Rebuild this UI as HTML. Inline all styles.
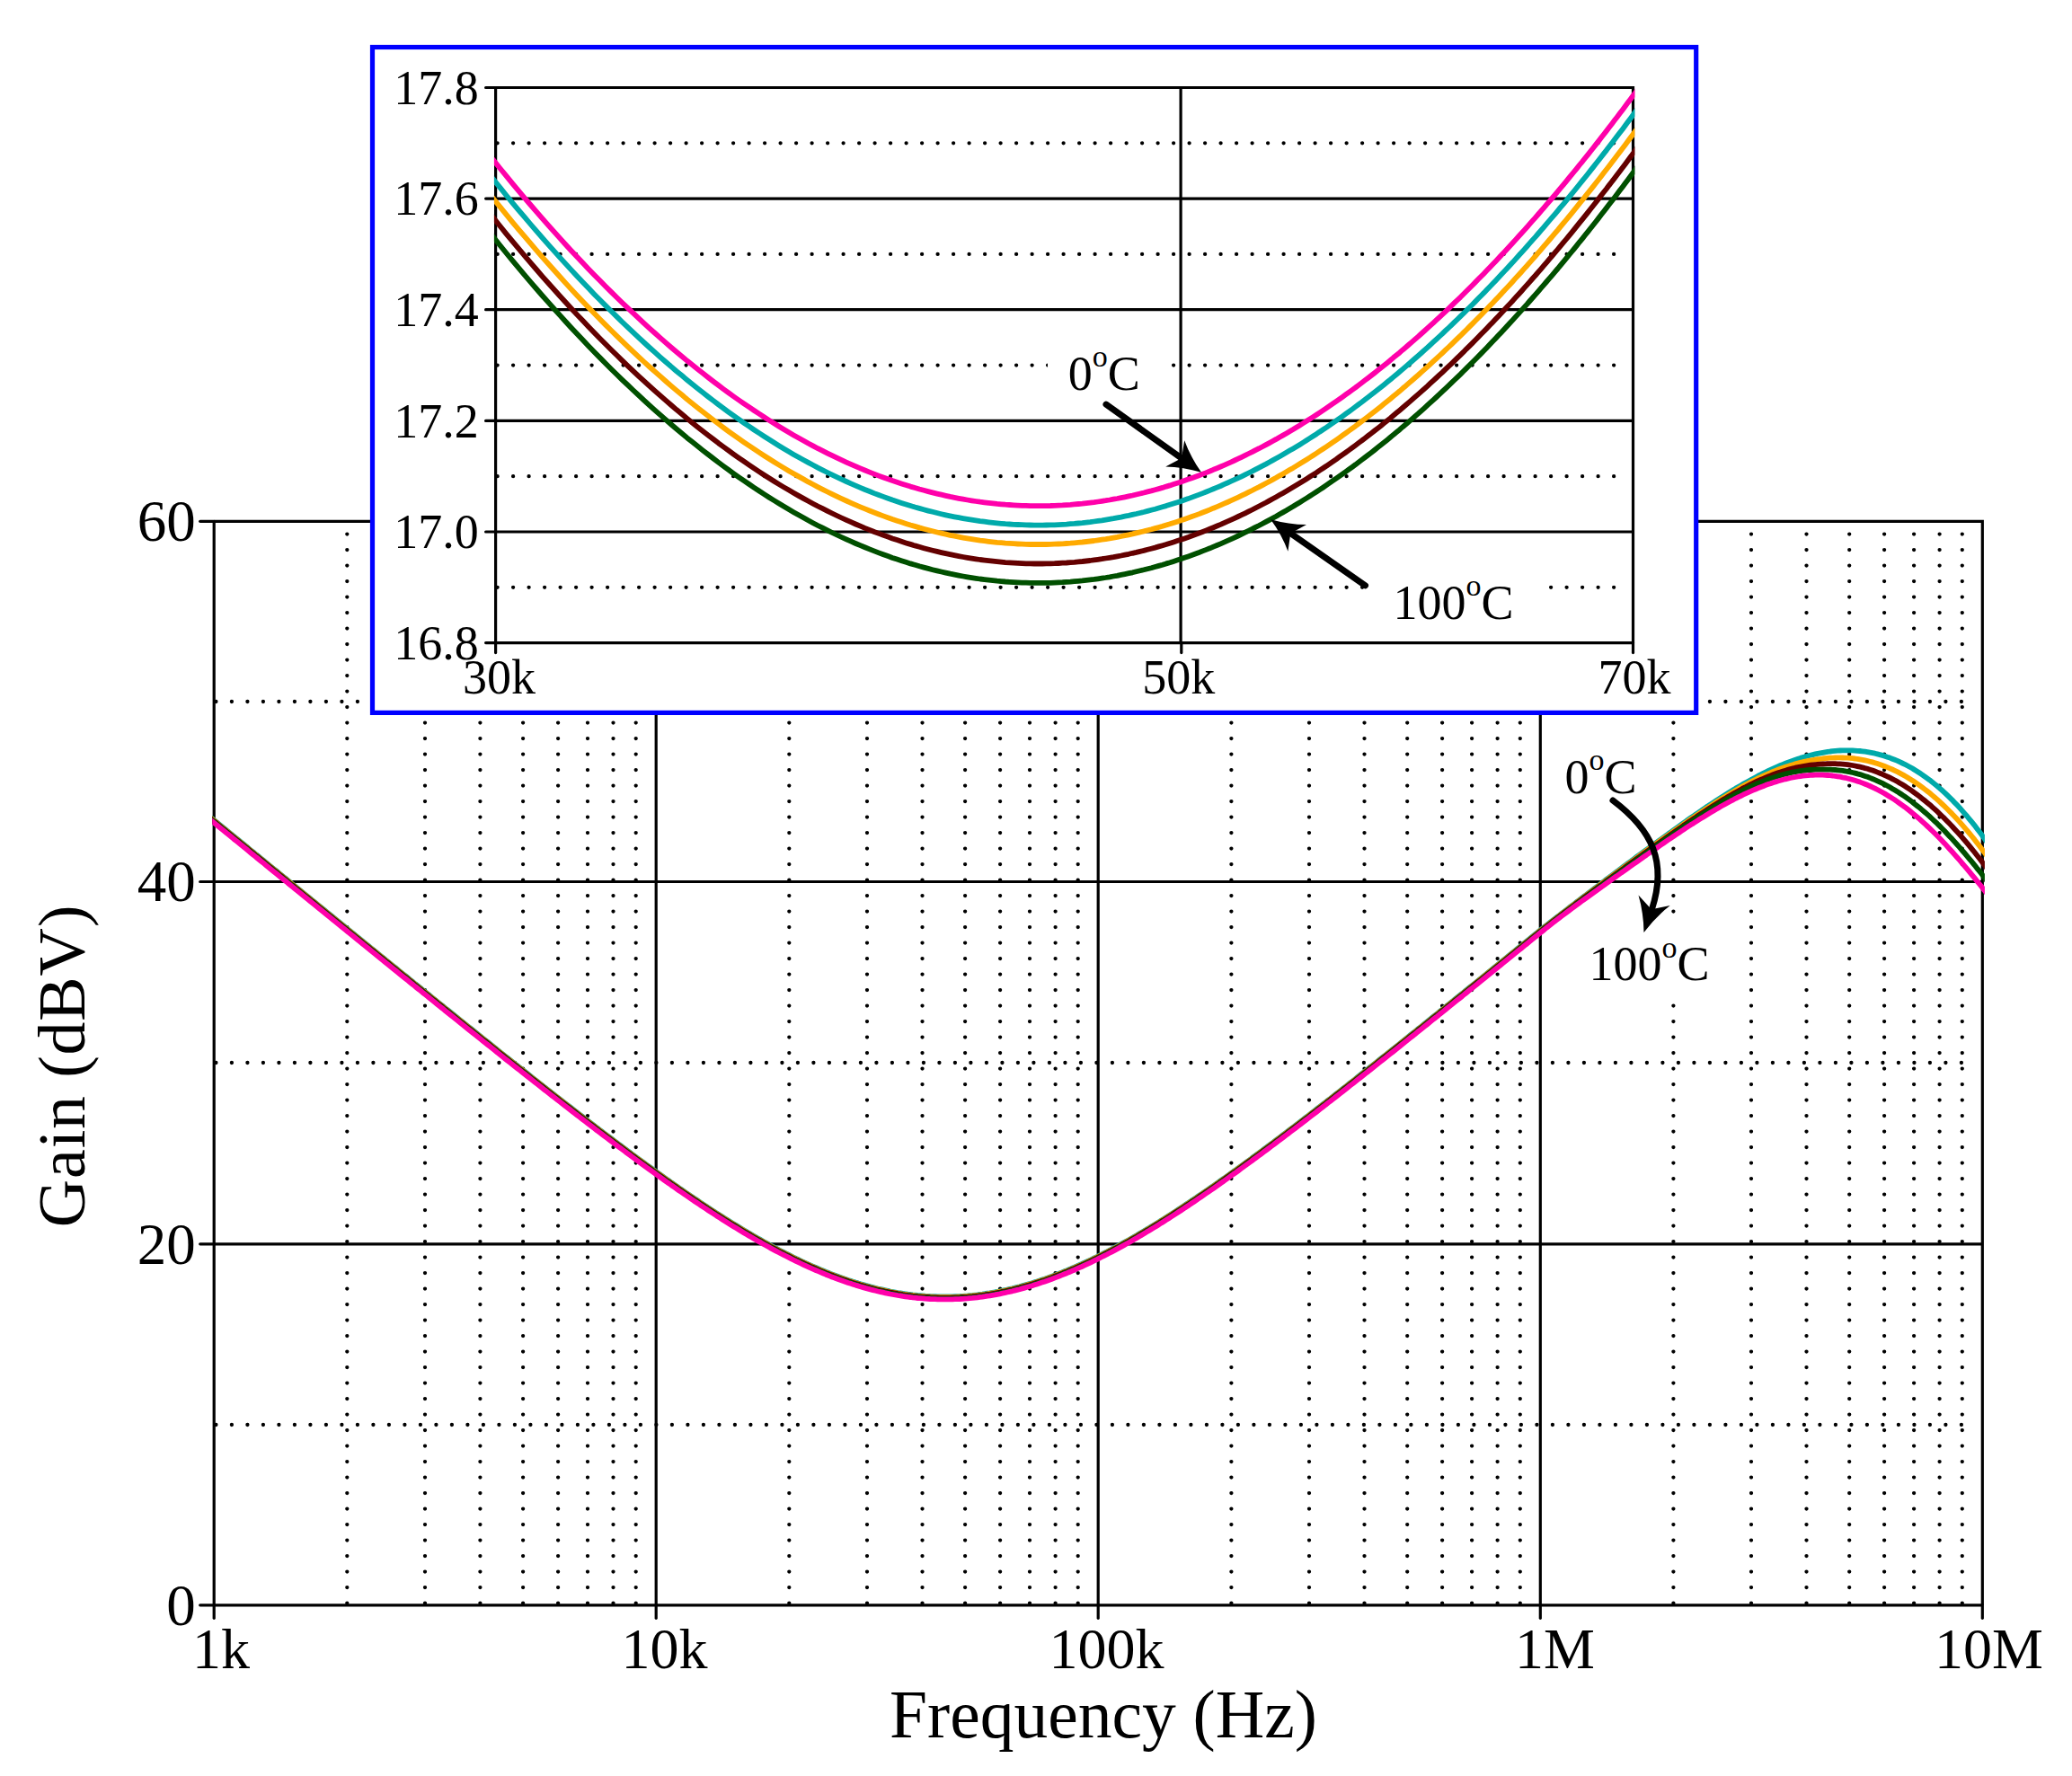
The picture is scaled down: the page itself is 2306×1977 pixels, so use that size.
<!DOCTYPE html>
<html lang="en"><head><meta charset="utf-8"><title>Gain vs Frequency</title>
<style>html,body{margin:0;padding:0;background:#fff}svg{display:block}</style></head>
<body>
<svg width="2306" height="1977" viewBox="0 0 2306 1977" font-family='"Liberation Serif", serif' fill="#000">
<style>.dot{stroke:#000;stroke-width:4.3;stroke-linecap:round;fill:none}.g{stroke:#000;stroke-width:3.2;fill:none}.c{fill:none;stroke-width:5.8;stroke-linejoin:round;stroke-linecap:butt}.ar{stroke:#000;stroke-width:7;fill:none;stroke-linecap:round}</style>
<rect width="2306" height="1977" fill="#fff"/>
<g id="main-grid">
<path d="M386.3 1784.6V594.58" class="dot" stroke-dasharray="0.01 17.49"/>
<path d="M473.0 1784.6V594.58" class="dot" stroke-dasharray="0.01 17.49"/>
<path d="M534.4 1784.6V594.58" class="dot" stroke-dasharray="0.01 17.49"/>
<path d="M582.1 1784.6V594.58" class="dot" stroke-dasharray="0.01 17.49"/>
<path d="M621.1 1784.6V594.58" class="dot" stroke-dasharray="0.01 17.49"/>
<path d="M654.0 1784.6V594.58" class="dot" stroke-dasharray="0.01 17.49"/>
<path d="M682.5 1784.6V594.58" class="dot" stroke-dasharray="0.01 17.49"/>
<path d="M707.7 1784.6V594.58" class="dot" stroke-dasharray="0.01 17.49"/>
<path d="M878.3 1784.6V594.58" class="dot" stroke-dasharray="0.01 17.49"/>
<path d="M965.0 1784.6V594.58" class="dot" stroke-dasharray="0.01 17.49"/>
<path d="M1026.5 1784.6V594.58" class="dot" stroke-dasharray="0.01 17.49"/>
<path d="M1074.1 1784.6V594.58" class="dot" stroke-dasharray="0.01 17.49"/>
<path d="M1113.1 1784.6V594.58" class="dot" stroke-dasharray="0.01 17.49"/>
<path d="M1146.0 1784.6V594.58" class="dot" stroke-dasharray="0.01 17.49"/>
<path d="M1174.6 1784.6V594.58" class="dot" stroke-dasharray="0.01 17.49"/>
<path d="M1199.7 1784.6V594.58" class="dot" stroke-dasharray="0.01 17.49"/>
<path d="M1370.4 1784.6V594.58" class="dot" stroke-dasharray="0.01 17.49"/>
<path d="M1457.0 1784.6V594.58" class="dot" stroke-dasharray="0.01 17.49"/>
<path d="M1518.5 1784.6V594.58" class="dot" stroke-dasharray="0.01 17.49"/>
<path d="M1566.2 1784.6V594.58" class="dot" stroke-dasharray="0.01 17.49"/>
<path d="M1605.1 1784.6V594.58" class="dot" stroke-dasharray="0.01 17.49"/>
<path d="M1638.1 1784.6V594.58" class="dot" stroke-dasharray="0.01 17.49"/>
<path d="M1666.6 1784.6V594.58" class="dot" stroke-dasharray="0.01 17.49"/>
<path d="M1691.8 1784.6V594.58" class="dot" stroke-dasharray="0.01 17.49"/>
<path d="M1862.4 1784.6V594.58" class="dot" stroke-dasharray="0.01 17.49"/>
<path d="M1949.0 1784.6V594.58" class="dot" stroke-dasharray="0.01 17.49"/>
<path d="M2010.5 1784.6V594.58" class="dot" stroke-dasharray="0.01 17.49"/>
<path d="M2058.2 1784.6V594.58" class="dot" stroke-dasharray="0.01 17.49"/>
<path d="M2097.1 1784.6V594.58" class="dot" stroke-dasharray="0.01 17.49"/>
<path d="M2130.1 1784.6V594.58" class="dot" stroke-dasharray="0.01 17.49"/>
<path d="M2158.6 1784.6V594.58" class="dot" stroke-dasharray="0.01 17.49"/>
<path d="M2183.8 1784.6V594.58" class="dot" stroke-dasharray="0.01 17.49"/>
<path d="M240.4 1586.0H2182.92" class="dot" stroke-dasharray="0.01 17.49"/>
<path d="M240.4 1183.0H2182.92" class="dot" stroke-dasharray="0.01 17.49"/>
<path d="M240.4 781.0H2182.92" class="dot" stroke-dasharray="0.01 17.49"/>
<path d="M730.2 580.3V1786.8" class="g" stroke-width="3.4"/>
<path d="M1222.2 580.3V1786.8" class="g" stroke-width="3.4"/>
<path d="M1714.3 580.3V1786.8" class="g" stroke-width="3.4"/>
<path d="M238.2 1384.8H2206.3" class="g" stroke-width="3"/>
<path d="M238.2 981.5H2206.3" class="g" stroke-width="3"/>
</g>
<rect x="1764" y="1024" width="148" height="88" fill="#fff"/>
<g id="main-axes">
<path d="M238.2 580.3H2206.3V1786.8" class="g" stroke-width="3.2"/>
<path d="M238.2 580.3V1786.8" class="g" stroke-width="4"/>
<path d="M238.2 1786.8H2206.3" class="g" stroke-width="4.4"/>
<path d="M222.7 1786.8H238.2" class="g" stroke-width="4.4" stroke-linecap="round"/>
<path d="M222.7 1384.8H238.2" class="g" stroke-width="3.2" stroke-linecap="round"/>
<path d="M222.7 981.5H238.2" class="g" stroke-width="3.2" stroke-linecap="round"/>
<path d="M222.7 580.3H238.2" class="g" stroke-width="3.2" stroke-linecap="round"/>
<path d="M238.2 1786.8V1801.3" class="g" stroke-width="3.6" stroke-linecap="round"/>
<path d="M730.2 1786.8V1801.3" class="g" stroke-width="3.6" stroke-linecap="round"/>
<path d="M1222.2 1786.8V1801.3" class="g" stroke-width="3.6" stroke-linecap="round"/>
<path d="M1714.3 1786.8V1801.3" class="g" stroke-width="3.6" stroke-linecap="round"/>
<path d="M2206.3 1786.8V1801.3" class="g" stroke-width="3.6" stroke-linecap="round"/>
</g>
<clipPath id="cm"><rect x="236.2" y="580.3" width="1972.7" height="1206.5"/></clipPath>
<g id="main-curves" clip-path="url(#cm)">
<polyline class="c" stroke="#00aaaa" points="227.2,903.9 230.0,906.2 232.8,908.5 235.5,910.7 238.3,913.0 241.1,915.2 243.8,917.5 246.6,919.8 249.4,922.0 252.1,924.3 254.9,926.5 257.7,928.8 260.4,931.1 263.2,933.3 266.0,935.6 268.7,937.8 271.5,940.1 274.3,942.3 277.0,944.6 279.8,946.9 282.6,949.1 285.3,951.4 288.1,953.6 290.9,955.9 293.6,958.1 296.4,960.4 299.2,962.7 301.9,964.9 304.7,967.2 307.5,969.4 310.3,971.7 313.0,973.9 315.8,976.2 318.6,978.4 321.3,980.7 324.1,983.0 326.9,985.2 329.6,987.5 332.4,989.7 335.2,992.0 337.9,994.2 340.7,996.5 343.5,998.7 346.2,1001.0 349.0,1003.2 351.8,1005.5 354.5,1007.7 357.3,1010.0 360.1,1012.3 362.8,1014.5 365.6,1016.8 368.4,1019.0 371.1,1021.3 373.9,1023.5 376.7,1025.8 379.4,1028.0 382.2,1030.3 385.0,1032.5 387.7,1034.8 390.5,1037.0 393.3,1039.3 396.0,1041.5 398.8,1043.8 401.6,1046.0 404.3,1048.3 407.1,1050.5 409.9,1052.8 412.6,1055.0 415.4,1057.2 418.2,1059.5 420.9,1061.7 423.7,1064.0 426.5,1066.2 429.2,1068.5 432.0,1070.7 434.8,1073.0 437.5,1075.2 440.3,1077.4 443.1,1079.7 445.8,1081.9 448.6,1084.2 451.4,1086.4 454.1,1088.6 456.9,1090.9 459.7,1093.1 462.4,1095.4 465.2,1097.6 468.0,1099.8 470.7,1102.1 473.5,1104.3 476.3,1106.5 479.0,1108.8 481.8,1111.0 484.6,1113.2 487.3,1115.5 490.1,1117.7 492.9,1119.9 495.6,1122.2 498.4,1124.4 501.2,1126.6 503.9,1128.8 506.7,1131.1 509.5,1133.3 512.2,1135.5 515.0,1137.7 517.8,1140.0 520.5,1142.2 523.3,1144.4 526.1,1146.6 528.8,1148.8 531.6,1151.1 534.4,1153.3 537.1,1155.5 539.9,1157.7 542.7,1159.9 545.4,1162.1 548.2,1164.3 551.0,1166.5 553.7,1168.8 556.5,1171.0 559.3,1173.2 562.0,1175.4 564.8,1177.6 567.6,1179.8 570.3,1182.0 573.1,1184.2 575.9,1186.4 578.7,1188.5 581.4,1190.7 584.2,1192.9 587.0,1195.1 589.7,1197.3 592.5,1199.5 595.3,1201.7 598.0,1203.8 600.8,1206.0 603.6,1208.2 606.3,1210.4 609.1,1212.5 611.9,1214.7 614.6,1216.9 617.4,1219.0 620.2,1221.2 622.9,1223.3 625.7,1225.5 628.5,1227.7 631.2,1229.8 634.0,1231.9 636.8,1234.1 639.5,1236.2 642.3,1238.4 645.1,1240.5 647.8,1242.6 650.6,1244.8 653.4,1246.9 656.1,1249.0 658.9,1251.1 661.7,1253.2 664.4,1255.4 667.2,1257.5 670.0,1259.6 672.7,1261.7 675.5,1263.8 678.3,1265.9 681.0,1267.9 683.8,1270.0 686.6,1272.1 689.3,1274.2 692.1,1276.2 694.9,1278.3 697.6,1280.4 700.4,1282.4 703.2,1284.5 705.9,1286.5 708.7,1288.6 711.5,1290.6 714.2,1292.6 717.0,1294.6 719.8,1296.7 722.5,1298.7 725.3,1300.7 728.1,1302.7 730.8,1304.7 733.6,1306.6 736.4,1308.6 739.1,1310.6 741.9,1312.6 744.7,1314.5 747.4,1316.5 750.2,1318.4 753.0,1320.3 755.7,1322.3 758.5,1324.2 761.3,1326.1 764.0,1328.0 766.8,1329.9 769.6,1331.8 772.3,1333.7 775.1,1335.5 777.9,1337.4 780.6,1339.3 783.4,1341.1 786.2,1342.9 788.9,1344.8 791.7,1346.6 794.5,1348.4 797.2,1350.2 800.0,1351.9 802.8,1353.7 805.5,1355.5 808.3,1357.2 811.1,1359.0 813.8,1360.7 816.6,1362.4 819.4,1364.1 822.1,1365.8 824.9,1367.5 827.7,1369.2 830.4,1370.8 833.2,1372.4 836.0,1374.1 838.8,1375.7 841.5,1377.3 844.3,1378.9 847.1,1380.4 849.8,1382.0 852.6,1383.5 855.4,1385.1 858.1,1386.6 860.9,1388.1 863.7,1389.6 866.4,1391.0 869.2,1392.5 872.0,1393.9 874.7,1395.3 877.5,1396.7 880.3,1398.1 883.0,1399.5 885.8,1400.9 888.6,1402.2 891.3,1403.5 894.1,1404.8 896.9,1406.1 899.6,1407.3 902.4,1408.6 905.2,1409.8 907.9,1411.0 910.7,1412.2 913.5,1413.4 916.2,1414.5 919.0,1415.7 921.8,1416.8 924.5,1417.9 927.3,1418.9 930.1,1420.0 932.8,1421.0 935.6,1422.0 938.4,1423.0 941.1,1423.9 943.9,1424.9 946.7,1425.8 949.4,1426.7 952.2,1427.6 955.0,1428.4 957.7,1429.3 960.5,1430.1 963.3,1430.9 966.0,1431.6 968.8,1432.4 971.6,1433.1 974.3,1433.8 977.1,1434.5 979.9,1435.1 982.6,1435.7 985.4,1436.3 988.2,1436.9 990.9,1437.5 993.7,1438.0 996.5,1438.5 999.2,1439.0 1002.0,1439.4 1004.8,1439.9 1007.5,1440.3 1010.3,1440.7 1013.1,1441.0 1015.8,1441.4 1018.6,1441.7 1021.4,1442.0 1024.1,1442.2 1026.9,1442.4 1029.7,1442.7 1032.4,1442.8 1035.2,1443.0 1038.0,1443.1 1040.7,1443.2 1043.5,1443.3 1046.3,1443.4 1049.0,1443.4 1051.8,1443.4 1054.6,1443.4 1057.3,1443.4 1060.1,1443.3 1062.9,1443.2 1065.6,1443.1 1068.4,1443.0 1071.2,1442.8 1073.9,1442.6 1076.7,1442.4 1079.5,1442.1 1082.2,1441.9 1085.0,1441.6 1087.8,1441.3 1090.5,1440.9 1093.3,1440.6 1096.1,1440.2 1098.9,1439.7 1101.6,1439.3 1104.4,1438.8 1107.2,1438.4 1109.9,1437.8 1112.7,1437.3 1115.5,1436.7 1118.2,1436.2 1121.0,1435.5 1123.8,1434.9 1126.5,1434.3 1129.3,1433.6 1132.1,1432.9 1134.8,1432.2 1137.6,1431.4 1140.4,1430.6 1143.1,1429.8 1145.9,1429.0 1148.7,1428.2 1151.4,1427.3 1154.2,1426.4 1157.0,1425.5 1159.7,1424.6 1162.5,1423.7 1165.3,1422.7 1168.0,1421.7 1170.8,1420.7 1173.6,1419.6 1176.3,1418.6 1179.1,1417.5 1181.9,1416.4 1184.6,1415.3 1187.4,1414.2 1190.2,1413.0 1192.9,1411.8 1195.7,1410.7 1198.5,1409.4 1201.2,1408.2 1204.0,1407.0 1206.8,1405.7 1209.5,1404.4 1212.3,1403.1 1215.1,1401.8 1217.8,1400.4 1220.6,1399.1 1223.4,1397.7 1226.1,1396.3 1228.9,1394.9 1231.7,1393.5 1234.4,1392.0 1237.2,1390.6 1240.0,1389.1 1242.7,1387.6 1245.5,1386.1 1248.3,1384.6 1251.0,1383.1 1253.8,1381.5 1256.6,1380.0 1259.3,1378.4 1262.1,1376.8 1264.9,1375.2 1267.6,1373.6 1270.4,1371.9 1273.2,1370.3 1275.9,1368.6 1278.7,1367.0 1281.5,1365.3 1284.2,1363.6 1287.0,1361.9 1289.8,1360.2 1292.5,1358.4 1295.3,1356.7 1298.1,1354.9 1300.8,1353.2 1303.6,1351.4 1306.4,1349.6 1309.1,1347.8 1311.9,1346.0 1314.7,1344.2 1317.4,1342.4 1320.2,1340.5 1323.0,1338.7 1325.7,1336.8 1328.5,1335.0 1331.3,1333.1 1334.0,1331.2 1336.8,1329.3 1339.6,1327.4 1342.3,1325.5 1345.1,1323.6 1347.9,1321.7 1350.6,1319.8 1353.4,1317.8 1356.2,1315.9 1358.9,1313.9 1361.7,1312.0 1364.5,1310.0 1367.3,1308.0 1370.0,1306.0 1372.8,1304.0 1375.6,1302.1 1378.3,1300.1 1381.1,1298.0 1383.9,1296.0 1386.6,1294.0 1389.4,1292.0 1392.2,1290.0 1394.9,1287.9 1397.7,1285.9 1400.5,1283.8 1403.2,1281.8 1406.0,1279.7 1408.8,1277.7 1411.5,1275.6 1414.3,1273.5 1417.1,1271.5 1419.8,1269.4 1422.6,1267.3 1425.4,1265.2 1428.1,1263.1 1430.9,1261.0 1433.7,1258.9 1436.4,1256.8 1439.2,1254.7 1442.0,1252.6 1444.7,1250.5 1447.5,1248.4 1450.3,1246.2 1453.0,1244.1 1455.8,1242.0 1458.6,1239.8 1461.3,1237.7 1464.1,1235.6 1466.9,1233.4 1469.6,1231.3 1472.4,1229.1 1475.2,1227.0 1477.9,1224.8 1480.7,1222.7 1483.5,1220.5 1486.2,1218.4 1489.0,1216.2 1491.8,1214.0 1494.5,1211.9 1497.3,1209.7 1500.1,1207.5 1502.8,1205.3 1505.6,1203.2 1508.4,1201.0 1511.1,1198.8 1513.9,1196.6 1516.7,1194.4 1519.4,1192.2 1522.2,1190.1 1525.0,1187.9 1527.7,1185.7 1530.5,1183.5 1533.3,1181.3 1536.0,1179.1 1538.8,1176.9 1541.6,1174.7 1544.3,1172.5 1547.1,1170.3 1549.9,1168.1 1552.6,1165.9 1555.4,1163.7 1558.2,1161.4 1560.9,1159.2 1563.7,1157.0 1566.5,1154.8 1569.2,1152.6 1572.0,1150.4 1574.8,1148.2 1577.5,1145.9 1580.3,1143.7 1583.1,1141.5 1585.8,1139.3 1588.6,1137.1 1591.4,1134.8 1594.1,1132.6 1596.9,1130.4 1599.7,1128.2 1602.4,1125.9 1605.2,1123.7 1608.0,1121.5 1610.7,1119.2 1613.5,1117.0 1616.3,1114.8 1619.0,1112.6 1621.8,1110.3 1624.6,1108.1 1627.4,1105.9 1630.1,1103.6 1632.9,1101.4 1635.7,1099.1 1638.4,1096.9 1641.2,1094.7 1644.0,1092.4 1646.7,1090.2 1649.5,1088.0 1652.3,1085.7 1655.0,1083.5 1657.8,1081.2 1660.6,1079.0 1663.3,1076.8 1666.1,1074.5 1668.9,1072.3 1671.6,1070.0 1674.4,1067.8 1677.2,1065.5 1679.9,1063.3 1682.7,1061.0 1685.5,1058.8 1688.2,1056.6 1691.0,1054.3 1693.8,1052.1 1696.5,1049.8 1699.3,1047.6 1702.1,1045.3 1704.8,1043.1 1707.6,1040.8 1710.4,1038.6 1713.1,1036.3 1715.9,1034.1 1718.7,1031.9 1721.4,1029.7 1724.2,1027.6 1727.0,1025.4 1729.7,1023.3 1732.5,1021.1 1735.3,1019.0 1738.0,1016.8 1740.8,1014.7 1743.6,1012.6 1746.3,1010.4 1749.1,1008.3 1751.9,1006.2 1754.6,1004.1 1757.4,1002.0 1760.2,999.9 1762.9,997.8 1765.7,995.7 1768.5,993.6 1771.2,991.5 1774.0,989.4 1776.8,987.3 1779.5,985.2 1782.3,983.1 1785.1,981.0 1787.8,978.9 1790.6,976.9 1793.4,974.8 1796.1,972.7 1798.9,970.6 1801.7,968.6 1804.4,966.5 1807.2,964.4 1810.0,962.4 1812.7,960.3 1815.5,958.3 1818.3,956.2 1821.0,954.2 1823.8,952.1 1826.6,950.1 1829.3,948.1 1832.1,946.0 1834.9,944.0 1837.6,942.0 1840.4,940.0 1843.2,938.0 1845.9,936.0 1848.7,934.0 1851.5,932.0 1854.2,930.0 1857.0,928.0 1859.8,926.1 1862.5,924.1 1865.3,922.1 1868.1,920.1 1870.8,918.1 1873.6,916.1 1876.4,914.2 1879.1,912.2 1881.9,910.2 1884.7,908.3 1887.5,906.4 1890.2,904.5 1893.0,902.6 1895.8,900.7 1898.5,898.8 1901.3,897.0 1904.1,895.1 1906.8,893.3 1909.6,891.5 1912.4,889.7 1915.1,887.9 1917.9,886.2 1920.7,884.4 1923.4,882.7 1926.2,881.0 1929.0,879.3 1931.7,877.6 1934.5,876.0 1937.3,874.4 1940.0,872.8 1942.8,871.2 1945.6,869.7 1948.3,868.2 1951.1,866.7 1953.9,865.2 1956.6,863.7 1959.4,862.3 1962.2,860.9 1964.9,859.6 1967.7,858.2 1970.5,856.9 1973.2,855.7 1976.0,854.4 1978.8,853.2 1981.5,852.0 1984.3,850.9 1987.1,849.8 1989.8,848.7 1992.6,847.7 1995.4,846.7 1998.1,845.7 2000.9,844.8 2003.7,843.9 2006.4,843.1 2009.2,842.3 2012.0,841.5 2014.7,840.8 2017.5,840.1 2020.3,839.4 2023.0,838.8 2025.8,838.3 2028.6,837.8 2031.3,837.3 2034.1,836.9 2036.9,836.5 2039.6,836.2 2042.4,835.9 2045.2,835.7 2047.9,835.5 2050.7,835.4 2053.5,835.3 2056.2,835.3 2059.0,835.4 2061.8,835.4 2064.5,835.6 2067.3,835.8 2070.1,836.0 2072.8,836.3 2075.6,836.7 2078.4,837.1 2081.1,837.6 2083.9,838.1 2086.7,838.7 2089.4,839.4 2092.2,840.1 2095.0,840.9 2097.7,841.7 2100.5,842.7 2103.3,843.6 2106.0,844.7 2108.8,845.8 2111.6,846.9 2114.3,848.2 2117.1,849.5 2119.9,850.8 2122.6,852.3 2125.4,853.8 2128.2,855.3 2130.9,857.0 2133.7,858.7 2136.5,860.5 2139.2,862.3 2142.0,864.3 2144.8,866.3 2147.6,868.3 2150.3,870.5 2153.1,872.7 2155.9,875.0 2158.6,877.4 2161.4,879.8 2164.2,882.3 2166.9,884.9 2169.7,887.6 2172.5,890.3 2175.2,893.2 2178.0,896.1 2180.8,899.1 2183.5,902.1 2186.3,905.3 2189.1,908.5 2191.8,911.8 2194.6,915.2 2197.4,918.6 2200.1,922.2 2202.9,925.8 2205.7,929.5 2208.4,933.3 2211.2,937.2 2214.0,941.1 2216.7,945.2"/>
<polyline class="c" stroke="#ffaa00" points="227.2,904.5 230.0,906.8 232.8,909.1 235.5,911.3 238.3,913.6 241.1,915.8 243.8,918.1 246.6,920.4 249.4,922.6 252.1,924.9 254.9,927.1 257.7,929.4 260.4,931.7 263.2,933.9 266.0,936.2 268.7,938.4 271.5,940.7 274.3,942.9 277.0,945.2 279.8,947.5 282.6,949.7 285.3,952.0 288.1,954.2 290.9,956.5 293.6,958.7 296.4,961.0 299.2,963.3 301.9,965.5 304.7,967.8 307.5,970.0 310.3,972.3 313.0,974.5 315.8,976.8 318.6,979.0 321.3,981.3 324.1,983.6 326.9,985.8 329.6,988.1 332.4,990.3 335.2,992.6 337.9,994.8 340.7,997.1 343.5,999.3 346.2,1001.6 349.0,1003.8 351.8,1006.1 354.5,1008.3 357.3,1010.6 360.1,1012.9 362.8,1015.1 365.6,1017.4 368.4,1019.6 371.1,1021.9 373.9,1024.1 376.7,1026.4 379.4,1028.6 382.2,1030.9 385.0,1033.1 387.7,1035.4 390.5,1037.6 393.3,1039.9 396.0,1042.1 398.8,1044.4 401.6,1046.6 404.3,1048.9 407.1,1051.1 409.9,1053.4 412.6,1055.6 415.4,1057.8 418.2,1060.1 420.9,1062.3 423.7,1064.6 426.5,1066.8 429.2,1069.1 432.0,1071.3 434.8,1073.6 437.5,1075.8 440.3,1078.0 443.1,1080.3 445.8,1082.5 448.6,1084.8 451.4,1087.0 454.1,1089.2 456.9,1091.5 459.7,1093.7 462.4,1096.0 465.2,1098.2 468.0,1100.4 470.7,1102.7 473.5,1104.9 476.3,1107.1 479.0,1109.4 481.8,1111.6 484.6,1113.8 487.3,1116.1 490.1,1118.3 492.9,1120.5 495.6,1122.8 498.4,1125.0 501.2,1127.2 503.9,1129.4 506.7,1131.7 509.5,1133.9 512.2,1136.1 515.0,1138.3 517.8,1140.6 520.5,1142.8 523.3,1145.0 526.1,1147.2 528.8,1149.4 531.6,1151.7 534.4,1153.9 537.1,1156.1 539.9,1158.3 542.7,1160.5 545.4,1162.7 548.2,1164.9 551.0,1167.1 553.7,1169.4 556.5,1171.6 559.3,1173.8 562.0,1176.0 564.8,1178.2 567.6,1180.4 570.3,1182.6 573.1,1184.8 575.9,1187.0 578.7,1189.1 581.4,1191.3 584.2,1193.5 587.0,1195.7 589.7,1197.9 592.5,1200.1 595.3,1202.3 598.0,1204.4 600.8,1206.6 603.6,1208.8 606.3,1211.0 609.1,1213.1 611.9,1215.3 614.6,1217.5 617.4,1219.6 620.2,1221.8 622.9,1223.9 625.7,1226.1 628.5,1228.3 631.2,1230.4 634.0,1232.5 636.8,1234.7 639.5,1236.8 642.3,1239.0 645.1,1241.1 647.8,1243.2 650.6,1245.4 653.4,1247.5 656.1,1249.6 658.9,1251.7 661.7,1253.8 664.4,1256.0 667.2,1258.1 670.0,1260.2 672.7,1262.3 675.5,1264.4 678.3,1266.5 681.0,1268.5 683.8,1270.6 686.6,1272.7 689.3,1274.8 692.1,1276.8 694.9,1278.9 697.6,1281.0 700.4,1283.0 703.2,1285.1 705.9,1287.1 708.7,1289.2 711.5,1291.2 714.2,1293.2 717.0,1295.2 719.8,1297.3 722.5,1299.3 725.3,1301.3 728.1,1303.3 730.8,1305.3 733.6,1307.2 736.4,1309.2 739.1,1311.2 741.9,1313.2 744.7,1315.1 747.4,1317.1 750.2,1319.0 753.0,1320.9 755.7,1322.9 758.5,1324.8 761.3,1326.7 764.0,1328.6 766.8,1330.5 769.6,1332.4 772.3,1334.3 775.1,1336.1 777.9,1338.0 780.6,1339.9 783.4,1341.7 786.2,1343.5 788.9,1345.4 791.7,1347.2 794.5,1349.0 797.2,1350.8 800.0,1352.5 802.8,1354.3 805.5,1356.1 808.3,1357.8 811.1,1359.6 813.8,1361.3 816.6,1363.0 819.4,1364.7 822.1,1366.4 824.9,1368.1 827.7,1369.8 830.4,1371.4 833.2,1373.0 836.0,1374.7 838.8,1376.3 841.5,1377.9 844.3,1379.5 847.1,1381.0 849.8,1382.6 852.6,1384.1 855.4,1385.7 858.1,1387.2 860.9,1388.7 863.7,1390.2 866.4,1391.6 869.2,1393.1 872.0,1394.5 874.7,1395.9 877.5,1397.3 880.3,1398.7 883.0,1400.1 885.8,1401.5 888.6,1402.8 891.3,1404.1 894.1,1405.4 896.9,1406.7 899.6,1407.9 902.4,1409.2 905.2,1410.4 907.9,1411.6 910.7,1412.8 913.5,1414.0 916.2,1415.1 919.0,1416.3 921.8,1417.4 924.5,1418.5 927.3,1419.5 930.1,1420.6 932.8,1421.6 935.6,1422.6 938.4,1423.6 941.1,1424.5 943.9,1425.5 946.7,1426.4 949.4,1427.3 952.2,1428.2 955.0,1429.0 957.7,1429.9 960.5,1430.7 963.3,1431.5 966.0,1432.2 968.8,1433.0 971.6,1433.7 974.3,1434.4 977.1,1435.1 979.9,1435.7 982.6,1436.3 985.4,1436.9 988.2,1437.5 990.9,1438.1 993.7,1438.6 996.5,1439.1 999.2,1439.6 1002.0,1440.0 1004.8,1440.5 1007.5,1440.9 1010.3,1441.3 1013.1,1441.6 1015.8,1442.0 1018.6,1442.3 1021.4,1442.6 1024.1,1442.8 1026.9,1443.0 1029.7,1443.3 1032.4,1443.4 1035.2,1443.6 1038.0,1443.7 1040.7,1443.8 1043.5,1443.9 1046.3,1444.0 1049.0,1444.0 1051.8,1444.0 1054.6,1444.0 1057.3,1444.0 1060.1,1443.9 1062.9,1443.8 1065.6,1443.7 1068.4,1443.6 1071.2,1443.4 1073.9,1443.2 1076.7,1443.0 1079.5,1442.7 1082.2,1442.5 1085.0,1442.2 1087.8,1441.9 1090.5,1441.5 1093.3,1441.2 1096.1,1440.8 1098.9,1440.3 1101.6,1439.9 1104.4,1439.4 1107.2,1439.0 1109.9,1438.4 1112.7,1437.9 1115.5,1437.3 1118.2,1436.8 1121.0,1436.1 1123.8,1435.5 1126.5,1434.9 1129.3,1434.2 1132.1,1433.5 1134.8,1432.8 1137.6,1432.0 1140.4,1431.2 1143.1,1430.4 1145.9,1429.6 1148.7,1428.8 1151.4,1427.9 1154.2,1427.0 1157.0,1426.1 1159.7,1425.2 1162.5,1424.3 1165.3,1423.3 1168.0,1422.3 1170.8,1421.3 1173.6,1420.2 1176.3,1419.2 1179.1,1418.1 1181.9,1417.0 1184.6,1415.9 1187.4,1414.8 1190.2,1413.6 1192.9,1412.4 1195.7,1411.3 1198.5,1410.0 1201.2,1408.8 1204.0,1407.6 1206.8,1406.3 1209.5,1405.0 1212.3,1403.7 1215.1,1402.4 1217.8,1401.0 1220.6,1399.7 1223.4,1398.3 1226.1,1396.9 1228.9,1395.5 1231.7,1394.1 1234.4,1392.6 1237.2,1391.2 1240.0,1389.7 1242.7,1388.2 1245.5,1386.7 1248.3,1385.2 1251.0,1383.7 1253.8,1382.1 1256.6,1380.6 1259.3,1379.0 1262.1,1377.4 1264.9,1375.8 1267.6,1374.2 1270.4,1372.5 1273.2,1370.9 1275.9,1369.2 1278.7,1367.6 1281.5,1365.9 1284.2,1364.2 1287.0,1362.5 1289.8,1360.8 1292.5,1359.0 1295.3,1357.3 1298.1,1355.5 1300.8,1353.8 1303.6,1352.0 1306.4,1350.2 1309.1,1348.4 1311.9,1346.6 1314.7,1344.8 1317.4,1343.0 1320.2,1341.1 1323.0,1339.3 1325.7,1337.4 1328.5,1335.6 1331.3,1333.7 1334.0,1331.8 1336.8,1329.9 1339.6,1328.0 1342.3,1326.1 1345.1,1324.2 1347.9,1322.3 1350.6,1320.4 1353.4,1318.4 1356.2,1316.5 1358.9,1314.5 1361.7,1312.6 1364.5,1310.6 1367.3,1308.6 1370.0,1306.6 1372.8,1304.6 1375.6,1302.7 1378.3,1300.7 1381.1,1298.6 1383.9,1296.6 1386.6,1294.6 1389.4,1292.6 1392.2,1290.6 1394.9,1288.5 1397.7,1286.5 1400.5,1284.4 1403.2,1282.4 1406.0,1280.3 1408.8,1278.3 1411.5,1276.2 1414.3,1274.1 1417.1,1272.1 1419.8,1270.0 1422.6,1267.9 1425.4,1265.8 1428.1,1263.7 1430.9,1261.6 1433.7,1259.5 1436.4,1257.4 1439.2,1255.3 1442.0,1253.2 1444.7,1251.1 1447.5,1249.0 1450.3,1246.8 1453.0,1244.7 1455.8,1242.6 1458.6,1240.4 1461.3,1238.3 1464.1,1236.2 1466.9,1234.0 1469.6,1231.9 1472.4,1229.7 1475.2,1227.6 1477.9,1225.4 1480.7,1223.3 1483.5,1221.1 1486.2,1219.0 1489.0,1216.8 1491.8,1214.6 1494.5,1212.5 1497.3,1210.3 1500.1,1208.1 1502.8,1205.9 1505.6,1203.8 1508.4,1201.6 1511.1,1199.4 1513.9,1197.2 1516.7,1195.0 1519.4,1192.8 1522.2,1190.7 1525.0,1188.5 1527.7,1186.3 1530.5,1184.1 1533.3,1181.9 1536.0,1179.7 1538.8,1177.5 1541.6,1175.3 1544.3,1173.1 1547.1,1170.9 1549.9,1168.7 1552.6,1166.5 1555.4,1164.3 1558.2,1162.0 1560.9,1159.8 1563.7,1157.6 1566.5,1155.4 1569.2,1153.2 1572.0,1151.0 1574.8,1148.8 1577.5,1146.5 1580.3,1144.3 1583.1,1142.1 1585.8,1139.9 1588.6,1137.7 1591.4,1135.4 1594.1,1133.2 1596.9,1131.0 1599.7,1128.8 1602.4,1126.5 1605.2,1124.3 1608.0,1122.1 1610.7,1119.8 1613.5,1117.6 1616.3,1115.4 1619.0,1113.2 1621.8,1110.9 1624.6,1108.7 1627.4,1106.5 1630.1,1104.2 1632.9,1102.0 1635.7,1099.7 1638.4,1097.5 1641.2,1095.3 1644.0,1093.0 1646.7,1090.8 1649.5,1088.6 1652.3,1086.3 1655.0,1084.1 1657.8,1081.8 1660.6,1079.6 1663.3,1077.4 1666.1,1075.1 1668.9,1072.9 1671.6,1070.6 1674.4,1068.4 1677.2,1066.1 1679.9,1063.9 1682.7,1061.6 1685.5,1059.4 1688.2,1057.2 1691.0,1054.9 1693.8,1052.7 1696.5,1050.4 1699.3,1048.2 1702.1,1045.9 1704.8,1043.7 1707.6,1041.4 1710.4,1039.2 1713.1,1036.9 1715.9,1034.7 1718.7,1032.5 1721.4,1030.3 1724.2,1028.2 1727.0,1026.0 1729.7,1023.8 1732.5,1021.7 1735.3,1019.5 1738.0,1017.4 1740.8,1015.3 1743.6,1013.2 1746.3,1011.0 1749.1,1008.9 1751.9,1006.8 1754.6,1004.7 1757.4,1002.6 1760.2,1000.5 1762.9,998.5 1765.7,996.4 1768.5,994.3 1771.2,992.2 1774.0,990.1 1776.8,988.1 1779.5,986.0 1782.3,983.9 1785.1,981.9 1787.8,979.8 1790.6,977.7 1793.4,975.7 1796.1,973.6 1798.9,971.6 1801.7,969.5 1804.4,967.5 1807.2,965.4 1810.0,963.4 1812.7,961.4 1815.5,959.3 1818.3,957.3 1821.0,955.3 1823.8,953.2 1826.6,951.2 1829.3,949.2 1832.1,947.2 1834.9,945.2 1837.6,943.2 1840.4,941.2 1843.2,939.2 1845.9,937.2 1848.7,935.2 1851.5,933.2 1854.2,931.3 1857.0,929.3 1859.8,927.4 1862.5,925.4 1865.3,923.4 1868.1,921.5 1870.8,919.5 1873.6,917.5 1876.4,915.6 1879.1,913.7 1881.9,911.7 1884.7,909.8 1887.5,907.9 1890.2,906.1 1893.0,904.2 1895.8,902.3 1898.5,900.5 1901.3,898.7 1904.1,896.9 1906.8,895.1 1909.6,893.3 1912.4,891.5 1915.1,889.8 1917.9,888.1 1920.7,886.4 1923.4,884.7 1926.2,883.0 1929.0,881.4 1931.7,879.8 1934.5,878.2 1937.3,876.6 1940.0,875.1 1942.8,873.5 1945.6,872.0 1948.3,870.6 1951.1,869.2 1953.9,867.8 1956.6,866.4 1959.4,865.1 1962.2,863.8 1964.9,862.6 1967.7,861.4 1970.5,860.2 1973.2,859.0 1976.0,857.9 1978.8,856.8 1981.5,855.8 1984.3,854.8 1987.1,853.8 1989.8,852.9 1992.6,852.0 1995.4,851.2 1998.1,850.4 2000.9,849.6 2003.7,848.9 2006.4,848.2 2009.2,847.6 2012.0,847.0 2014.7,846.5 2017.5,846.0 2020.3,845.6 2023.0,845.2 2025.8,844.9 2028.6,844.5 2031.3,844.2 2034.1,843.9 2036.9,843.7 2039.6,843.6 2042.4,843.5 2045.2,843.4 2047.9,843.4 2050.7,843.5 2053.5,843.6 2056.2,843.7 2059.0,843.9 2061.8,844.2 2064.5,844.5 2067.3,844.9 2070.1,845.4 2072.8,845.9 2075.6,846.4 2078.4,847.0 2081.1,847.7 2083.9,848.4 2086.7,849.2 2089.4,850.1 2092.2,851.0 2095.0,852.0 2097.7,853.0 2100.5,854.1 2103.3,855.3 2106.0,856.5 2108.8,857.8 2111.6,859.2 2114.3,860.6 2117.1,862.1 2119.9,863.6 2122.6,865.3 2125.4,867.0 2128.2,868.7 2130.9,870.5 2133.7,872.4 2136.5,874.4 2139.2,876.4 2142.0,878.5 2144.8,880.6 2147.6,882.8 2150.3,885.1 2153.1,887.5 2155.9,889.9 2158.6,892.4 2161.4,895.0 2164.2,897.6 2166.9,900.3 2169.7,903.1 2172.5,905.9 2175.2,908.8 2178.0,911.8 2180.8,914.8 2183.5,917.9 2186.3,921.1 2189.1,924.3 2191.8,927.6 2194.6,931.0 2197.4,934.4 2200.1,937.9 2202.9,941.5 2205.7,945.2 2208.4,948.9 2211.2,952.6 2214.0,956.5 2216.7,960.4"/>
<polyline class="c" stroke="#640000" points="227.2,905.1 230.0,907.4 232.8,909.7 235.5,911.9 238.3,914.2 241.1,916.4 243.8,918.7 246.6,921.0 249.4,923.2 252.1,925.5 254.9,927.7 257.7,930.0 260.4,932.3 263.2,934.5 266.0,936.8 268.7,939.0 271.5,941.3 274.3,943.5 277.0,945.8 279.8,948.1 282.6,950.3 285.3,952.6 288.1,954.8 290.9,957.1 293.6,959.3 296.4,961.6 299.2,963.9 301.9,966.1 304.7,968.4 307.5,970.6 310.3,972.9 313.0,975.1 315.8,977.4 318.6,979.6 321.3,981.9 324.1,984.2 326.9,986.4 329.6,988.7 332.4,990.9 335.2,993.2 337.9,995.4 340.7,997.7 343.5,999.9 346.2,1002.2 349.0,1004.4 351.8,1006.7 354.5,1008.9 357.3,1011.2 360.1,1013.5 362.8,1015.7 365.6,1018.0 368.4,1020.2 371.1,1022.5 373.9,1024.7 376.7,1027.0 379.4,1029.2 382.2,1031.5 385.0,1033.7 387.7,1036.0 390.5,1038.2 393.3,1040.5 396.0,1042.7 398.8,1045.0 401.6,1047.2 404.3,1049.5 407.1,1051.7 409.9,1054.0 412.6,1056.2 415.4,1058.4 418.2,1060.7 420.9,1062.9 423.7,1065.2 426.5,1067.4 429.2,1069.7 432.0,1071.9 434.8,1074.2 437.5,1076.4 440.3,1078.6 443.1,1080.9 445.8,1083.1 448.6,1085.4 451.4,1087.6 454.1,1089.8 456.9,1092.1 459.7,1094.3 462.4,1096.6 465.2,1098.8 468.0,1101.0 470.7,1103.3 473.5,1105.5 476.3,1107.7 479.0,1110.0 481.8,1112.2 484.6,1114.4 487.3,1116.7 490.1,1118.9 492.9,1121.1 495.6,1123.4 498.4,1125.6 501.2,1127.8 503.9,1130.0 506.7,1132.3 509.5,1134.5 512.2,1136.7 515.0,1138.9 517.8,1141.2 520.5,1143.4 523.3,1145.6 526.1,1147.8 528.8,1150.0 531.6,1152.3 534.4,1154.5 537.1,1156.7 539.9,1158.9 542.7,1161.1 545.4,1163.3 548.2,1165.5 551.0,1167.7 553.7,1170.0 556.5,1172.2 559.3,1174.4 562.0,1176.6 564.8,1178.8 567.6,1181.0 570.3,1183.2 573.1,1185.4 575.9,1187.6 578.7,1189.7 581.4,1191.9 584.2,1194.1 587.0,1196.3 589.7,1198.5 592.5,1200.7 595.3,1202.9 598.0,1205.0 600.8,1207.2 603.6,1209.4 606.3,1211.6 609.1,1213.7 611.9,1215.9 614.6,1218.1 617.4,1220.2 620.2,1222.4 622.9,1224.5 625.7,1226.7 628.5,1228.9 631.2,1231.0 634.0,1233.1 636.8,1235.3 639.5,1237.4 642.3,1239.6 645.1,1241.7 647.8,1243.8 650.6,1246.0 653.4,1248.1 656.1,1250.2 658.9,1252.3 661.7,1254.4 664.4,1256.6 667.2,1258.7 670.0,1260.8 672.7,1262.9 675.5,1265.0 678.3,1267.1 681.0,1269.1 683.8,1271.2 686.6,1273.3 689.3,1275.4 692.1,1277.4 694.9,1279.5 697.6,1281.6 700.4,1283.6 703.2,1285.7 705.9,1287.7 708.7,1289.8 711.5,1291.8 714.2,1293.8 717.0,1295.8 719.8,1297.9 722.5,1299.9 725.3,1301.9 728.1,1303.9 730.8,1305.9 733.6,1307.8 736.4,1309.8 739.1,1311.8 741.9,1313.8 744.7,1315.7 747.4,1317.7 750.2,1319.6 753.0,1321.5 755.7,1323.5 758.5,1325.4 761.3,1327.3 764.0,1329.2 766.8,1331.1 769.6,1333.0 772.3,1334.9 775.1,1336.7 777.9,1338.6 780.6,1340.5 783.4,1342.3 786.2,1344.1 788.9,1346.0 791.7,1347.8 794.5,1349.6 797.2,1351.4 800.0,1353.1 802.8,1354.9 805.5,1356.7 808.3,1358.4 811.1,1360.2 813.8,1361.9 816.6,1363.6 819.4,1365.3 822.1,1367.0 824.9,1368.7 827.7,1370.4 830.4,1372.0 833.2,1373.6 836.0,1375.3 838.8,1376.9 841.5,1378.5 844.3,1380.1 847.1,1381.6 849.8,1383.2 852.6,1384.7 855.4,1386.3 858.1,1387.8 860.9,1389.3 863.7,1390.8 866.4,1392.2 869.2,1393.7 872.0,1395.1 874.7,1396.5 877.5,1397.9 880.3,1399.3 883.0,1400.7 885.8,1402.1 888.6,1403.4 891.3,1404.7 894.1,1406.0 896.9,1407.3 899.6,1408.5 902.4,1409.8 905.2,1411.0 907.9,1412.2 910.7,1413.4 913.5,1414.6 916.2,1415.7 919.0,1416.9 921.8,1418.0 924.5,1419.1 927.3,1420.1 930.1,1421.2 932.8,1422.2 935.6,1423.2 938.4,1424.2 941.1,1425.1 943.9,1426.1 946.7,1427.0 949.4,1427.9 952.2,1428.8 955.0,1429.6 957.7,1430.5 960.5,1431.3 963.3,1432.1 966.0,1432.8 968.8,1433.6 971.6,1434.3 974.3,1435.0 977.1,1435.7 979.9,1436.3 982.6,1436.9 985.4,1437.5 988.2,1438.1 990.9,1438.7 993.7,1439.2 996.5,1439.7 999.2,1440.2 1002.0,1440.6 1004.8,1441.1 1007.5,1441.5 1010.3,1441.9 1013.1,1442.2 1015.8,1442.6 1018.6,1442.9 1021.4,1443.2 1024.1,1443.4 1026.9,1443.6 1029.7,1443.9 1032.4,1444.0 1035.2,1444.2 1038.0,1444.3 1040.7,1444.4 1043.5,1444.5 1046.3,1444.6 1049.0,1444.6 1051.8,1444.6 1054.6,1444.6 1057.3,1444.6 1060.1,1444.5 1062.9,1444.4 1065.6,1444.3 1068.4,1444.2 1071.2,1444.0 1073.9,1443.8 1076.7,1443.6 1079.5,1443.3 1082.2,1443.1 1085.0,1442.8 1087.8,1442.5 1090.5,1442.1 1093.3,1441.8 1096.1,1441.4 1098.9,1440.9 1101.6,1440.5 1104.4,1440.0 1107.2,1439.6 1109.9,1439.0 1112.7,1438.5 1115.5,1437.9 1118.2,1437.4 1121.0,1436.7 1123.8,1436.1 1126.5,1435.5 1129.3,1434.8 1132.1,1434.1 1134.8,1433.4 1137.6,1432.6 1140.4,1431.8 1143.1,1431.0 1145.9,1430.2 1148.7,1429.4 1151.4,1428.5 1154.2,1427.6 1157.0,1426.7 1159.7,1425.8 1162.5,1424.9 1165.3,1423.9 1168.0,1422.9 1170.8,1421.9 1173.6,1420.8 1176.3,1419.8 1179.1,1418.7 1181.9,1417.6 1184.6,1416.5 1187.4,1415.4 1190.2,1414.2 1192.9,1413.0 1195.7,1411.9 1198.5,1410.6 1201.2,1409.4 1204.0,1408.2 1206.8,1406.9 1209.5,1405.6 1212.3,1404.3 1215.1,1403.0 1217.8,1401.6 1220.6,1400.3 1223.4,1398.9 1226.1,1397.5 1228.9,1396.1 1231.7,1394.7 1234.4,1393.2 1237.2,1391.8 1240.0,1390.3 1242.7,1388.8 1245.5,1387.3 1248.3,1385.8 1251.0,1384.3 1253.8,1382.7 1256.6,1381.2 1259.3,1379.6 1262.1,1378.0 1264.9,1376.4 1267.6,1374.8 1270.4,1373.1 1273.2,1371.5 1275.9,1369.8 1278.7,1368.2 1281.5,1366.5 1284.2,1364.8 1287.0,1363.1 1289.8,1361.4 1292.5,1359.6 1295.3,1357.9 1298.1,1356.1 1300.8,1354.4 1303.6,1352.6 1306.4,1350.8 1309.1,1349.0 1311.9,1347.2 1314.7,1345.4 1317.4,1343.6 1320.2,1341.7 1323.0,1339.9 1325.7,1338.0 1328.5,1336.2 1331.3,1334.3 1334.0,1332.4 1336.8,1330.5 1339.6,1328.6 1342.3,1326.7 1345.1,1324.8 1347.9,1322.9 1350.6,1321.0 1353.4,1319.0 1356.2,1317.1 1358.9,1315.1 1361.7,1313.2 1364.5,1311.2 1367.3,1309.2 1370.0,1307.2 1372.8,1305.2 1375.6,1303.3 1378.3,1301.3 1381.1,1299.2 1383.9,1297.2 1386.6,1295.2 1389.4,1293.2 1392.2,1291.2 1394.9,1289.1 1397.7,1287.1 1400.5,1285.0 1403.2,1283.0 1406.0,1280.9 1408.8,1278.9 1411.5,1276.8 1414.3,1274.7 1417.1,1272.7 1419.8,1270.6 1422.6,1268.5 1425.4,1266.4 1428.1,1264.3 1430.9,1262.2 1433.7,1260.1 1436.4,1258.0 1439.2,1255.9 1442.0,1253.8 1444.7,1251.7 1447.5,1249.6 1450.3,1247.4 1453.0,1245.3 1455.8,1243.2 1458.6,1241.0 1461.3,1238.9 1464.1,1236.8 1466.9,1234.6 1469.6,1232.5 1472.4,1230.3 1475.2,1228.2 1477.9,1226.0 1480.7,1223.9 1483.5,1221.7 1486.2,1219.6 1489.0,1217.4 1491.8,1215.2 1494.5,1213.1 1497.3,1210.9 1500.1,1208.7 1502.8,1206.5 1505.6,1204.4 1508.4,1202.2 1511.1,1200.0 1513.9,1197.8 1516.7,1195.6 1519.4,1193.4 1522.2,1191.3 1525.0,1189.1 1527.7,1186.9 1530.5,1184.7 1533.3,1182.5 1536.0,1180.3 1538.8,1178.1 1541.6,1175.9 1544.3,1173.7 1547.1,1171.5 1549.9,1169.3 1552.6,1167.1 1555.4,1164.9 1558.2,1162.6 1560.9,1160.4 1563.7,1158.2 1566.5,1156.0 1569.2,1153.8 1572.0,1151.6 1574.8,1149.4 1577.5,1147.1 1580.3,1144.9 1583.1,1142.7 1585.8,1140.5 1588.6,1138.3 1591.4,1136.0 1594.1,1133.8 1596.9,1131.6 1599.7,1129.4 1602.4,1127.1 1605.2,1124.9 1608.0,1122.7 1610.7,1120.4 1613.5,1118.2 1616.3,1116.0 1619.0,1113.8 1621.8,1111.5 1624.6,1109.3 1627.4,1107.1 1630.1,1104.8 1632.9,1102.6 1635.7,1100.3 1638.4,1098.1 1641.2,1095.9 1644.0,1093.6 1646.7,1091.4 1649.5,1089.2 1652.3,1086.9 1655.0,1084.7 1657.8,1082.4 1660.6,1080.2 1663.3,1078.0 1666.1,1075.7 1668.9,1073.5 1671.6,1071.2 1674.4,1069.0 1677.2,1066.7 1679.9,1064.5 1682.7,1062.2 1685.5,1060.0 1688.2,1057.8 1691.0,1055.5 1693.8,1053.3 1696.5,1051.0 1699.3,1048.8 1702.1,1046.5 1704.8,1044.3 1707.6,1042.0 1710.4,1039.8 1713.1,1037.5 1715.9,1035.3 1718.7,1033.1 1721.4,1030.9 1724.2,1028.7 1727.0,1026.6 1729.7,1024.4 1732.5,1022.3 1735.3,1020.1 1738.0,1018.0 1740.8,1015.9 1743.6,1013.8 1746.3,1011.7 1749.1,1009.6 1751.9,1007.5 1754.6,1005.4 1757.4,1003.3 1760.2,1001.2 1762.9,999.2 1765.7,997.1 1768.5,995.0 1771.2,993.0 1774.0,990.9 1776.8,988.9 1779.5,986.8 1782.3,984.8 1785.1,982.7 1787.8,980.7 1790.6,978.6 1793.4,976.6 1796.1,974.6 1798.9,972.5 1801.7,970.5 1804.4,968.5 1807.2,966.5 1810.0,964.4 1812.7,962.4 1815.5,960.4 1818.3,958.4 1821.0,956.4 1823.8,954.4 1826.6,952.4 1829.3,950.4 1832.1,948.4 1834.9,946.4 1837.6,944.4 1840.4,942.4 1843.2,940.4 1845.9,938.5 1848.7,936.5 1851.5,934.5 1854.2,932.6 1857.0,930.6 1859.8,928.7 1862.5,926.8 1865.3,924.8 1868.1,922.9 1870.8,921.0 1873.6,919.0 1876.4,917.1 1879.1,915.2 1881.9,913.3 1884.7,911.4 1887.5,909.6 1890.2,907.7 1893.0,905.9 1895.8,904.1 1898.5,902.3 1901.3,900.5 1904.1,898.7 1906.8,896.9 1909.6,895.2 1912.4,893.5 1915.1,891.8 1917.9,890.1 1920.7,888.4 1923.4,886.8 1926.2,885.2 1929.0,883.6 1931.7,882.0 1934.5,880.5 1937.3,878.9 1940.0,877.4 1942.8,876.0 1945.6,874.5 1948.3,873.1 1951.1,871.8 1953.9,870.5 1956.6,869.2 1959.4,868.0 1962.2,866.8 1964.9,865.6 1967.7,864.5 1970.5,863.4 1973.2,862.3 1976.0,861.3 1978.8,860.3 1981.5,859.4 1984.3,858.5 1987.1,857.7 1989.8,856.9 1992.6,856.1 1995.4,855.4 1998.1,854.7 2000.9,854.1 2003.7,853.5 2006.4,853.0 2009.2,852.5 2012.0,852.1 2014.7,851.7 2017.5,851.4 2020.3,851.1 2023.0,850.9 2025.8,850.7 2028.6,850.5 2031.3,850.3 2034.1,850.2 2036.9,850.1 2039.6,850.1 2042.4,850.2 2045.2,850.3 2047.9,850.4 2050.7,850.6 2053.5,850.9 2056.2,851.2 2059.0,851.6 2061.8,852.0 2064.5,852.5 2067.3,853.1 2070.1,853.7 2072.8,854.3 2075.6,855.1 2078.4,855.8 2081.1,856.7 2083.9,857.6 2086.7,858.6 2089.4,859.6 2092.2,860.7 2095.0,861.8 2097.7,863.1 2100.5,864.3 2103.3,865.7 2106.0,867.1 2108.8,868.5 2111.6,870.1 2114.3,871.7 2117.1,873.3 2119.9,875.0 2122.6,876.8 2125.4,878.7 2128.2,880.6 2130.9,882.6 2133.7,884.6 2136.5,886.7 2139.2,888.9 2142.0,891.1 2144.8,893.4 2147.6,895.7 2150.3,898.2 2153.1,900.6 2155.9,903.2 2158.6,905.8 2161.4,908.5 2164.2,911.2 2166.9,914.0 2169.7,916.8 2172.5,919.7 2175.2,922.7 2178.0,925.7 2180.8,928.8 2183.5,931.9 2186.3,935.1 2189.1,938.4 2191.8,941.7 2194.6,945.1 2197.4,948.5 2200.1,952.0 2202.9,955.5 2205.7,959.1 2208.4,962.7 2211.2,966.4 2214.0,970.1 2216.7,973.9"/>
<polyline class="c" stroke="#005000" points="227.2,905.9 230.0,908.2 232.8,910.5 235.5,912.7 238.3,915.0 241.1,917.2 243.8,919.5 246.6,921.8 249.4,924.0 252.1,926.3 254.9,928.5 257.7,930.8 260.4,933.1 263.2,935.3 266.0,937.6 268.7,939.8 271.5,942.1 274.3,944.3 277.0,946.6 279.8,948.9 282.6,951.1 285.3,953.4 288.1,955.6 290.9,957.9 293.6,960.1 296.4,962.4 299.2,964.7 301.9,966.9 304.7,969.2 307.5,971.4 310.3,973.7 313.0,975.9 315.8,978.2 318.6,980.4 321.3,982.7 324.1,985.0 326.9,987.2 329.6,989.5 332.4,991.7 335.2,994.0 337.9,996.2 340.7,998.5 343.5,1000.7 346.2,1003.0 349.0,1005.2 351.8,1007.5 354.5,1009.7 357.3,1012.0 360.1,1014.3 362.8,1016.5 365.6,1018.8 368.4,1021.0 371.1,1023.3 373.9,1025.5 376.7,1027.8 379.4,1030.0 382.2,1032.3 385.0,1034.5 387.7,1036.8 390.5,1039.0 393.3,1041.3 396.0,1043.5 398.8,1045.8 401.6,1048.0 404.3,1050.3 407.1,1052.5 409.9,1054.8 412.6,1057.0 415.4,1059.2 418.2,1061.5 420.9,1063.7 423.7,1066.0 426.5,1068.2 429.2,1070.5 432.0,1072.7 434.8,1075.0 437.5,1077.2 440.3,1079.4 443.1,1081.7 445.8,1083.9 448.6,1086.2 451.4,1088.4 454.1,1090.6 456.9,1092.9 459.7,1095.1 462.4,1097.4 465.2,1099.6 468.0,1101.8 470.7,1104.1 473.5,1106.3 476.3,1108.5 479.0,1110.8 481.8,1113.0 484.6,1115.2 487.3,1117.5 490.1,1119.7 492.9,1121.9 495.6,1124.2 498.4,1126.4 501.2,1128.6 503.9,1130.8 506.7,1133.1 509.5,1135.3 512.2,1137.5 515.0,1139.7 517.8,1142.0 520.5,1144.2 523.3,1146.4 526.1,1148.6 528.8,1150.8 531.6,1153.1 534.4,1155.3 537.1,1157.5 539.9,1159.7 542.7,1161.9 545.4,1164.1 548.2,1166.3 551.0,1168.5 553.7,1170.8 556.5,1173.0 559.3,1175.2 562.0,1177.4 564.8,1179.6 567.6,1181.8 570.3,1184.0 573.1,1186.2 575.9,1188.4 578.7,1190.5 581.4,1192.7 584.2,1194.9 587.0,1197.1 589.7,1199.3 592.5,1201.5 595.3,1203.7 598.0,1205.8 600.8,1208.0 603.6,1210.2 606.3,1212.4 609.1,1214.5 611.9,1216.7 614.6,1218.9 617.4,1221.0 620.2,1223.2 622.9,1225.3 625.7,1227.5 628.5,1229.7 631.2,1231.8 634.0,1233.9 636.8,1236.1 639.5,1238.2 642.3,1240.4 645.1,1242.5 647.8,1244.6 650.6,1246.8 653.4,1248.9 656.1,1251.0 658.9,1253.1 661.7,1255.2 664.4,1257.4 667.2,1259.5 670.0,1261.6 672.7,1263.7 675.5,1265.8 678.3,1267.9 681.0,1269.9 683.8,1272.0 686.6,1274.1 689.3,1276.2 692.1,1278.2 694.9,1280.3 697.6,1282.4 700.4,1284.4 703.2,1286.5 705.9,1288.5 708.7,1290.6 711.5,1292.6 714.2,1294.6 717.0,1296.6 719.8,1298.7 722.5,1300.7 725.3,1302.7 728.1,1304.7 730.8,1306.7 733.6,1308.6 736.4,1310.6 739.1,1312.6 741.9,1314.6 744.7,1316.5 747.4,1318.5 750.2,1320.4 753.0,1322.3 755.7,1324.3 758.5,1326.2 761.3,1328.1 764.0,1330.0 766.8,1331.9 769.6,1333.8 772.3,1335.7 775.1,1337.5 777.9,1339.4 780.6,1341.3 783.4,1343.1 786.2,1344.9 788.9,1346.8 791.7,1348.6 794.5,1350.4 797.2,1352.2 800.0,1353.9 802.8,1355.7 805.5,1357.5 808.3,1359.2 811.1,1361.0 813.8,1362.7 816.6,1364.4 819.4,1366.1 822.1,1367.8 824.9,1369.5 827.7,1371.2 830.4,1372.8 833.2,1374.4 836.0,1376.1 838.8,1377.7 841.5,1379.3 844.3,1380.9 847.1,1382.4 849.8,1384.0 852.6,1385.5 855.4,1387.1 858.1,1388.6 860.9,1390.1 863.7,1391.6 866.4,1393.0 869.2,1394.5 872.0,1395.9 874.7,1397.3 877.5,1398.7 880.3,1400.1 883.0,1401.5 885.8,1402.9 888.6,1404.2 891.3,1405.5 894.1,1406.8 896.9,1408.1 899.6,1409.3 902.4,1410.6 905.2,1411.8 907.9,1413.0 910.7,1414.2 913.5,1415.4 916.2,1416.5 919.0,1417.7 921.8,1418.8 924.5,1419.9 927.3,1420.9 930.1,1422.0 932.8,1423.0 935.6,1424.0 938.4,1425.0 941.1,1425.9 943.9,1426.9 946.7,1427.8 949.4,1428.7 952.2,1429.6 955.0,1430.4 957.7,1431.3 960.5,1432.1 963.3,1432.9 966.0,1433.6 968.8,1434.4 971.6,1435.1 974.3,1435.8 977.1,1436.5 979.9,1437.1 982.6,1437.7 985.4,1438.3 988.2,1438.9 990.9,1439.5 993.7,1440.0 996.5,1440.5 999.2,1441.0 1002.0,1441.4 1004.8,1441.9 1007.5,1442.3 1010.3,1442.7 1013.1,1443.0 1015.8,1443.4 1018.6,1443.7 1021.4,1444.0 1024.1,1444.2 1026.9,1444.4 1029.7,1444.7 1032.4,1444.8 1035.2,1445.0 1038.0,1445.1 1040.7,1445.2 1043.5,1445.3 1046.3,1445.4 1049.0,1445.4 1051.8,1445.4 1054.6,1445.4 1057.3,1445.4 1060.1,1445.3 1062.9,1445.2 1065.6,1445.1 1068.4,1445.0 1071.2,1444.8 1073.9,1444.6 1076.7,1444.4 1079.5,1444.1 1082.2,1443.9 1085.0,1443.6 1087.8,1443.3 1090.5,1442.9 1093.3,1442.6 1096.1,1442.2 1098.9,1441.7 1101.6,1441.3 1104.4,1440.8 1107.2,1440.4 1109.9,1439.8 1112.7,1439.3 1115.5,1438.7 1118.2,1438.2 1121.0,1437.5 1123.8,1436.9 1126.5,1436.3 1129.3,1435.6 1132.1,1434.9 1134.8,1434.2 1137.6,1433.4 1140.4,1432.6 1143.1,1431.8 1145.9,1431.0 1148.7,1430.2 1151.4,1429.3 1154.2,1428.4 1157.0,1427.5 1159.7,1426.6 1162.5,1425.7 1165.3,1424.7 1168.0,1423.7 1170.8,1422.7 1173.6,1421.6 1176.3,1420.6 1179.1,1419.5 1181.9,1418.4 1184.6,1417.3 1187.4,1416.2 1190.2,1415.0 1192.9,1413.8 1195.7,1412.7 1198.5,1411.4 1201.2,1410.2 1204.0,1409.0 1206.8,1407.7 1209.5,1406.4 1212.3,1405.1 1215.1,1403.8 1217.8,1402.4 1220.6,1401.1 1223.4,1399.7 1226.1,1398.3 1228.9,1396.9 1231.7,1395.5 1234.4,1394.0 1237.2,1392.6 1240.0,1391.1 1242.7,1389.6 1245.5,1388.1 1248.3,1386.6 1251.0,1385.1 1253.8,1383.5 1256.6,1382.0 1259.3,1380.4 1262.1,1378.8 1264.9,1377.2 1267.6,1375.6 1270.4,1373.9 1273.2,1372.3 1275.9,1370.6 1278.7,1369.0 1281.5,1367.3 1284.2,1365.6 1287.0,1363.9 1289.8,1362.2 1292.5,1360.4 1295.3,1358.7 1298.1,1356.9 1300.8,1355.2 1303.6,1353.4 1306.4,1351.6 1309.1,1349.8 1311.9,1348.0 1314.7,1346.2 1317.4,1344.4 1320.2,1342.5 1323.0,1340.7 1325.7,1338.8 1328.5,1337.0 1331.3,1335.1 1334.0,1333.2 1336.8,1331.3 1339.6,1329.4 1342.3,1327.5 1345.1,1325.6 1347.9,1323.7 1350.6,1321.8 1353.4,1319.8 1356.2,1317.9 1358.9,1315.9 1361.7,1314.0 1364.5,1312.0 1367.3,1310.0 1370.0,1308.0 1372.8,1306.0 1375.6,1304.1 1378.3,1302.1 1381.1,1300.0 1383.9,1298.0 1386.6,1296.0 1389.4,1294.0 1392.2,1292.0 1394.9,1289.9 1397.7,1287.9 1400.5,1285.8 1403.2,1283.8 1406.0,1281.7 1408.8,1279.7 1411.5,1277.6 1414.3,1275.5 1417.1,1273.5 1419.8,1271.4 1422.6,1269.3 1425.4,1267.2 1428.1,1265.1 1430.9,1263.0 1433.7,1260.9 1436.4,1258.8 1439.2,1256.7 1442.0,1254.6 1444.7,1252.5 1447.5,1250.4 1450.3,1248.2 1453.0,1246.1 1455.8,1244.0 1458.6,1241.8 1461.3,1239.7 1464.1,1237.6 1466.9,1235.4 1469.6,1233.3 1472.4,1231.1 1475.2,1229.0 1477.9,1226.8 1480.7,1224.7 1483.5,1222.5 1486.2,1220.4 1489.0,1218.2 1491.8,1216.0 1494.5,1213.9 1497.3,1211.7 1500.1,1209.5 1502.8,1207.3 1505.6,1205.2 1508.4,1203.0 1511.1,1200.8 1513.9,1198.6 1516.7,1196.4 1519.4,1194.2 1522.2,1192.1 1525.0,1189.9 1527.7,1187.7 1530.5,1185.5 1533.3,1183.3 1536.0,1181.1 1538.8,1178.9 1541.6,1176.7 1544.3,1174.5 1547.1,1172.3 1549.9,1170.1 1552.6,1167.9 1555.4,1165.7 1558.2,1163.4 1560.9,1161.2 1563.7,1159.0 1566.5,1156.8 1569.2,1154.6 1572.0,1152.4 1574.8,1150.2 1577.5,1147.9 1580.3,1145.7 1583.1,1143.5 1585.8,1141.3 1588.6,1139.1 1591.4,1136.8 1594.1,1134.6 1596.9,1132.4 1599.7,1130.2 1602.4,1127.9 1605.2,1125.7 1608.0,1123.5 1610.7,1121.2 1613.5,1119.0 1616.3,1116.8 1619.0,1114.6 1621.8,1112.3 1624.6,1110.1 1627.4,1107.9 1630.1,1105.6 1632.9,1103.4 1635.7,1101.1 1638.4,1098.9 1641.2,1096.7 1644.0,1094.4 1646.7,1092.2 1649.5,1090.0 1652.3,1087.7 1655.0,1085.5 1657.8,1083.2 1660.6,1081.0 1663.3,1078.8 1666.1,1076.5 1668.9,1074.3 1671.6,1072.0 1674.4,1069.8 1677.2,1067.5 1679.9,1065.3 1682.7,1063.0 1685.5,1060.8 1688.2,1058.6 1691.0,1056.3 1693.8,1054.1 1696.5,1051.8 1699.3,1049.6 1702.1,1047.3 1704.8,1045.1 1707.6,1042.8 1710.4,1040.6 1713.1,1038.3 1715.9,1036.1 1718.7,1033.9 1721.4,1031.7 1724.2,1029.5 1727.0,1027.3 1729.7,1025.2 1732.5,1023.0 1735.3,1020.9 1738.0,1018.8 1740.8,1016.7 1743.6,1014.5 1746.3,1012.5 1749.1,1010.4 1751.9,1008.3 1754.6,1006.2 1757.4,1004.1 1760.2,1002.1 1762.9,1000.0 1765.7,998.0 1768.5,995.9 1771.2,993.9 1774.0,991.8 1776.8,989.8 1779.5,987.8 1782.3,985.7 1785.1,983.7 1787.8,981.7 1790.6,979.6 1793.4,977.6 1796.1,975.6 1798.9,973.6 1801.7,971.6 1804.4,969.6 1807.2,967.6 1810.0,965.5 1812.7,963.5 1815.5,961.5 1818.3,959.5 1821.0,957.5 1823.8,955.6 1826.6,953.6 1829.3,951.6 1832.1,949.6 1834.9,947.6 1837.6,945.6 1840.4,943.7 1843.2,941.7 1845.9,939.8 1848.7,937.8 1851.5,935.9 1854.2,933.9 1857.0,932.0 1859.8,930.1 1862.5,928.2 1865.3,926.2 1868.1,924.3 1870.8,922.4 1873.6,920.5 1876.4,918.6 1879.1,916.8 1881.9,914.9 1884.7,913.1 1887.5,911.2 1890.2,909.4 1893.0,907.6 1895.8,905.8 1898.5,904.0 1901.3,902.3 1904.1,900.5 1906.8,898.8 1909.6,897.1 1912.4,895.4 1915.1,893.8 1917.9,892.1 1920.7,890.5 1923.4,888.9 1926.2,887.3 1929.0,885.8 1931.7,884.3 1934.5,882.8 1937.3,881.3 1940.0,879.8 1942.8,878.4 1945.6,877.0 1948.3,875.7 1951.1,874.4 1953.9,873.2 1956.6,872.0 1959.4,870.8 1962.2,869.7 1964.9,868.6 1967.7,867.6 1970.5,866.6 1973.2,865.7 1976.0,864.8 1978.8,863.9 1981.5,863.1 1984.3,862.3 1987.1,861.6 1989.8,860.9 1992.6,860.2 1995.4,859.6 1998.1,859.1 2000.9,858.6 2003.7,858.2 2006.4,857.8 2009.2,857.5 2012.0,857.2 2014.7,857.0 2017.5,856.8 2020.3,856.7 2023.0,856.7 2025.8,856.7 2028.6,856.6 2031.3,856.6 2034.1,856.6 2036.9,856.7 2039.6,856.8 2042.4,857.0 2045.2,857.3 2047.9,857.6 2050.7,857.9 2053.5,858.4 2056.2,858.9 2059.0,859.4 2061.8,860.0 2064.5,860.6 2067.3,861.4 2070.1,862.1 2072.8,863.0 2075.6,863.9 2078.4,864.8 2081.1,865.9 2083.9,867.0 2086.7,868.1 2089.4,869.3 2092.2,870.6 2095.0,871.9 2097.7,873.3 2100.5,874.8 2103.3,876.3 2106.0,877.9 2108.8,879.5 2111.6,881.2 2114.3,883.0 2117.1,884.8 2119.9,886.7 2122.6,888.6 2125.4,890.6 2128.2,892.7 2130.9,894.9 2133.7,897.1 2136.5,899.3 2139.2,901.6 2142.0,904.0 2144.8,906.4 2147.6,908.9 2150.3,911.5 2153.1,914.1 2155.9,916.7 2158.6,919.4 2161.4,922.2 2164.2,925.0 2166.9,927.9 2169.7,930.9 2172.5,933.8 2175.2,936.9 2178.0,940.0 2180.8,943.1 2183.5,946.3 2186.3,949.5 2189.1,952.8 2191.8,956.1 2194.6,959.4 2197.4,962.8 2200.1,966.3 2202.9,969.7 2205.7,973.2 2208.4,976.8 2211.2,980.4 2214.0,984.0 2216.7,987.6"/>
<polyline class="c" stroke="#ff00aa" points="227.2,906.9 230.0,909.2 232.8,911.5 235.5,913.7 238.3,916.0 241.1,918.2 243.8,920.5 246.6,922.8 249.4,925.0 252.1,927.3 254.9,929.5 257.7,931.8 260.4,934.1 263.2,936.3 266.0,938.6 268.7,940.8 271.5,943.1 274.3,945.3 277.0,947.6 279.8,949.9 282.6,952.1 285.3,954.4 288.1,956.6 290.9,958.9 293.6,961.1 296.4,963.4 299.2,965.7 301.9,967.9 304.7,970.2 307.5,972.4 310.3,974.7 313.0,976.9 315.8,979.2 318.6,981.4 321.3,983.7 324.1,986.0 326.9,988.2 329.6,990.5 332.4,992.7 335.2,995.0 337.9,997.2 340.7,999.5 343.5,1001.7 346.2,1004.0 349.0,1006.2 351.8,1008.5 354.5,1010.7 357.3,1013.0 360.1,1015.3 362.8,1017.5 365.6,1019.8 368.4,1022.0 371.1,1024.3 373.9,1026.5 376.7,1028.8 379.4,1031.0 382.2,1033.3 385.0,1035.5 387.7,1037.8 390.5,1040.0 393.3,1042.3 396.0,1044.5 398.8,1046.8 401.6,1049.0 404.3,1051.3 407.1,1053.5 409.9,1055.8 412.6,1058.0 415.4,1060.2 418.2,1062.5 420.9,1064.7 423.7,1067.0 426.5,1069.2 429.2,1071.5 432.0,1073.7 434.8,1076.0 437.5,1078.2 440.3,1080.4 443.1,1082.7 445.8,1084.9 448.6,1087.2 451.4,1089.4 454.1,1091.6 456.9,1093.9 459.7,1096.1 462.4,1098.4 465.2,1100.6 468.0,1102.8 470.7,1105.1 473.5,1107.3 476.3,1109.5 479.0,1111.8 481.8,1114.0 484.6,1116.2 487.3,1118.5 490.1,1120.7 492.9,1122.9 495.6,1125.2 498.4,1127.4 501.2,1129.6 503.9,1131.8 506.7,1134.1 509.5,1136.3 512.2,1138.5 515.0,1140.7 517.8,1143.0 520.5,1145.2 523.3,1147.4 526.1,1149.6 528.8,1151.8 531.6,1154.1 534.4,1156.3 537.1,1158.5 539.9,1160.7 542.7,1162.9 545.4,1165.1 548.2,1167.3 551.0,1169.5 553.7,1171.8 556.5,1174.0 559.3,1176.2 562.0,1178.4 564.8,1180.6 567.6,1182.8 570.3,1185.0 573.1,1187.2 575.9,1189.4 578.7,1191.5 581.4,1193.7 584.2,1195.9 587.0,1198.1 589.7,1200.3 592.5,1202.5 595.3,1204.7 598.0,1206.8 600.8,1209.0 603.6,1211.2 606.3,1213.4 609.1,1215.5 611.9,1217.7 614.6,1219.9 617.4,1222.0 620.2,1224.2 622.9,1226.3 625.7,1228.5 628.5,1230.7 631.2,1232.8 634.0,1234.9 636.8,1237.1 639.5,1239.2 642.3,1241.4 645.1,1243.5 647.8,1245.6 650.6,1247.8 653.4,1249.9 656.1,1252.0 658.9,1254.1 661.7,1256.2 664.4,1258.4 667.2,1260.5 670.0,1262.6 672.7,1264.7 675.5,1266.8 678.3,1268.9 681.0,1270.9 683.8,1273.0 686.6,1275.1 689.3,1277.2 692.1,1279.2 694.9,1281.3 697.6,1283.4 700.4,1285.4 703.2,1287.5 705.9,1289.5 708.7,1291.6 711.5,1293.6 714.2,1295.6 717.0,1297.6 719.8,1299.7 722.5,1301.7 725.3,1303.7 728.1,1305.7 730.8,1307.7 733.6,1309.6 736.4,1311.6 739.1,1313.6 741.9,1315.6 744.7,1317.5 747.4,1319.5 750.2,1321.4 753.0,1323.3 755.7,1325.3 758.5,1327.2 761.3,1329.1 764.0,1331.0 766.8,1332.9 769.6,1334.8 772.3,1336.7 775.1,1338.5 777.9,1340.4 780.6,1342.3 783.4,1344.1 786.2,1345.9 788.9,1347.8 791.7,1349.6 794.5,1351.4 797.2,1353.2 800.0,1354.9 802.8,1356.7 805.5,1358.5 808.3,1360.2 811.1,1362.0 813.8,1363.7 816.6,1365.4 819.4,1367.1 822.1,1368.8 824.9,1370.5 827.7,1372.2 830.4,1373.8 833.2,1375.4 836.0,1377.1 838.8,1378.7 841.5,1380.3 844.3,1381.9 847.1,1383.4 849.8,1385.0 852.6,1386.5 855.4,1388.1 858.1,1389.6 860.9,1391.1 863.7,1392.6 866.4,1394.0 869.2,1395.5 872.0,1396.9 874.7,1398.3 877.5,1399.7 880.3,1401.1 883.0,1402.5 885.8,1403.9 888.6,1405.2 891.3,1406.5 894.1,1407.8 896.9,1409.1 899.6,1410.3 902.4,1411.6 905.2,1412.8 907.9,1414.0 910.7,1415.2 913.5,1416.4 916.2,1417.5 919.0,1418.7 921.8,1419.8 924.5,1420.9 927.3,1421.9 930.1,1423.0 932.8,1424.0 935.6,1425.0 938.4,1426.0 941.1,1426.9 943.9,1427.9 946.7,1428.8 949.4,1429.7 952.2,1430.6 955.0,1431.4 957.7,1432.3 960.5,1433.1 963.3,1433.9 966.0,1434.6 968.8,1435.4 971.6,1436.1 974.3,1436.8 977.1,1437.5 979.9,1438.1 982.6,1438.7 985.4,1439.3 988.2,1439.9 990.9,1440.5 993.7,1441.0 996.5,1441.5 999.2,1442.0 1002.0,1442.4 1004.8,1442.9 1007.5,1443.3 1010.3,1443.7 1013.1,1444.0 1015.8,1444.4 1018.6,1444.7 1021.4,1445.0 1024.1,1445.2 1026.9,1445.4 1029.7,1445.7 1032.4,1445.8 1035.2,1446.0 1038.0,1446.1 1040.7,1446.2 1043.5,1446.3 1046.3,1446.4 1049.0,1446.4 1051.8,1446.4 1054.6,1446.4 1057.3,1446.4 1060.1,1446.3 1062.9,1446.2 1065.6,1446.1 1068.4,1446.0 1071.2,1445.8 1073.9,1445.6 1076.7,1445.4 1079.5,1445.1 1082.2,1444.9 1085.0,1444.6 1087.8,1444.3 1090.5,1443.9 1093.3,1443.6 1096.1,1443.2 1098.9,1442.7 1101.6,1442.3 1104.4,1441.8 1107.2,1441.4 1109.9,1440.8 1112.7,1440.3 1115.5,1439.7 1118.2,1439.2 1121.0,1438.5 1123.8,1437.9 1126.5,1437.3 1129.3,1436.6 1132.1,1435.9 1134.8,1435.2 1137.6,1434.4 1140.4,1433.6 1143.1,1432.8 1145.9,1432.0 1148.7,1431.2 1151.4,1430.3 1154.2,1429.4 1157.0,1428.5 1159.7,1427.6 1162.5,1426.7 1165.3,1425.7 1168.0,1424.7 1170.8,1423.7 1173.6,1422.6 1176.3,1421.6 1179.1,1420.5 1181.9,1419.4 1184.6,1418.3 1187.4,1417.2 1190.2,1416.0 1192.9,1414.8 1195.7,1413.7 1198.5,1412.4 1201.2,1411.2 1204.0,1410.0 1206.8,1408.7 1209.5,1407.4 1212.3,1406.1 1215.1,1404.8 1217.8,1403.4 1220.6,1402.1 1223.4,1400.7 1226.1,1399.3 1228.9,1397.9 1231.7,1396.5 1234.4,1395.0 1237.2,1393.6 1240.0,1392.1 1242.7,1390.6 1245.5,1389.1 1248.3,1387.6 1251.0,1386.1 1253.8,1384.5 1256.6,1383.0 1259.3,1381.4 1262.1,1379.8 1264.9,1378.2 1267.6,1376.6 1270.4,1374.9 1273.2,1373.3 1275.9,1371.6 1278.7,1370.0 1281.5,1368.3 1284.2,1366.6 1287.0,1364.9 1289.8,1363.2 1292.5,1361.4 1295.3,1359.7 1298.1,1357.9 1300.8,1356.2 1303.6,1354.4 1306.4,1352.6 1309.1,1350.8 1311.9,1349.0 1314.7,1347.2 1317.4,1345.4 1320.2,1343.5 1323.0,1341.7 1325.7,1339.8 1328.5,1338.0 1331.3,1336.1 1334.0,1334.2 1336.8,1332.3 1339.6,1330.4 1342.3,1328.5 1345.1,1326.6 1347.9,1324.7 1350.6,1322.8 1353.4,1320.8 1356.2,1318.9 1358.9,1316.9 1361.7,1315.0 1364.5,1313.0 1367.3,1311.0 1370.0,1309.0 1372.8,1307.0 1375.6,1305.1 1378.3,1303.1 1381.1,1301.0 1383.9,1299.0 1386.6,1297.0 1389.4,1295.0 1392.2,1293.0 1394.9,1290.9 1397.7,1288.9 1400.5,1286.8 1403.2,1284.8 1406.0,1282.7 1408.8,1280.7 1411.5,1278.6 1414.3,1276.5 1417.1,1274.5 1419.8,1272.4 1422.6,1270.3 1425.4,1268.2 1428.1,1266.1 1430.9,1264.0 1433.7,1261.9 1436.4,1259.8 1439.2,1257.7 1442.0,1255.6 1444.7,1253.5 1447.5,1251.4 1450.3,1249.2 1453.0,1247.1 1455.8,1245.0 1458.6,1242.8 1461.3,1240.7 1464.1,1238.6 1466.9,1236.4 1469.6,1234.3 1472.4,1232.1 1475.2,1230.0 1477.9,1227.8 1480.7,1225.7 1483.5,1223.5 1486.2,1221.4 1489.0,1219.2 1491.8,1217.0 1494.5,1214.9 1497.3,1212.7 1500.1,1210.5 1502.8,1208.3 1505.6,1206.2 1508.4,1204.0 1511.1,1201.8 1513.9,1199.6 1516.7,1197.4 1519.4,1195.2 1522.2,1193.1 1525.0,1190.9 1527.7,1188.7 1530.5,1186.5 1533.3,1184.3 1536.0,1182.1 1538.8,1179.9 1541.6,1177.7 1544.3,1175.5 1547.1,1173.3 1549.9,1171.1 1552.6,1168.9 1555.4,1166.7 1558.2,1164.4 1560.9,1162.2 1563.7,1160.0 1566.5,1157.8 1569.2,1155.6 1572.0,1153.4 1574.8,1151.2 1577.5,1148.9 1580.3,1146.7 1583.1,1144.5 1585.8,1142.3 1588.6,1140.1 1591.4,1137.8 1594.1,1135.6 1596.9,1133.4 1599.7,1131.2 1602.4,1128.9 1605.2,1126.7 1608.0,1124.5 1610.7,1122.2 1613.5,1120.0 1616.3,1117.8 1619.0,1115.6 1621.8,1113.3 1624.6,1111.1 1627.4,1108.9 1630.1,1106.6 1632.9,1104.4 1635.7,1102.1 1638.4,1099.9 1641.2,1097.7 1644.0,1095.4 1646.7,1093.2 1649.5,1091.0 1652.3,1088.7 1655.0,1086.5 1657.8,1084.2 1660.6,1082.0 1663.3,1079.8 1666.1,1077.5 1668.9,1075.3 1671.6,1073.0 1674.4,1070.8 1677.2,1068.5 1679.9,1066.3 1682.7,1064.0 1685.5,1061.8 1688.2,1059.6 1691.0,1057.3 1693.8,1055.1 1696.5,1052.8 1699.3,1050.6 1702.1,1048.3 1704.8,1046.1 1707.6,1043.8 1710.4,1041.6 1713.1,1039.3 1715.9,1037.1 1718.7,1034.9 1721.4,1032.6 1724.2,1030.5 1727.0,1028.3 1729.7,1026.1 1732.5,1024.0 1735.3,1021.9 1738.0,1019.8 1740.8,1017.7 1743.6,1015.6 1746.3,1013.6 1749.1,1011.5 1751.9,1009.4 1754.6,1007.4 1757.4,1005.4 1760.2,1003.3 1762.9,1001.3 1765.7,999.3 1768.5,997.3 1771.2,995.3 1774.0,993.3 1776.8,991.3 1779.5,989.3 1782.3,987.3 1785.1,985.4 1787.8,983.4 1790.6,981.4 1793.4,979.4 1796.1,977.4 1798.9,975.5 1801.7,973.5 1804.4,971.5 1807.2,969.6 1810.0,967.6 1812.7,965.6 1815.5,963.7 1818.3,961.7 1821.0,959.8 1823.8,957.8 1826.6,955.9 1829.3,953.9 1832.1,952.0 1834.9,950.0 1837.6,948.1 1840.4,946.2 1843.2,944.3 1845.9,942.3 1848.7,940.4 1851.5,938.5 1854.2,936.6 1857.0,934.7 1859.8,932.8 1862.5,931.0 1865.3,929.1 1868.1,927.3 1870.8,925.4 1873.6,923.6 1876.4,921.7 1879.1,919.9 1881.9,918.1 1884.7,916.4 1887.5,914.6 1890.2,912.8 1893.0,911.1 1895.8,909.4 1898.5,907.7 1901.3,906.0 1904.1,904.3 1906.8,902.7 1909.6,901.0 1912.4,899.4 1915.1,897.8 1917.9,896.3 1920.7,894.7 1923.4,893.2 1926.2,891.7 1929.0,890.3 1931.7,888.8 1934.5,887.4 1937.3,886.1 1940.0,884.7 1942.8,883.4 1945.6,882.1 1948.3,880.9 1951.1,879.7 1953.9,878.5 1956.6,877.3 1959.4,876.2 1962.2,875.2 1964.9,874.1 1967.7,873.1 1970.5,872.2 1973.2,871.2 1976.0,870.4 1978.8,869.5 1981.5,868.8 1984.3,868.0 1987.1,867.3 1989.8,866.7 1992.6,866.0 1995.4,865.5 1998.1,865.0 2000.9,864.5 2003.7,864.1 2006.4,863.7 2009.2,863.4 2012.0,863.2 2014.7,862.9 2017.5,862.8 2020.3,862.7 2023.0,862.6 2025.8,862.6 2028.6,862.7 2031.3,862.8 2034.1,863.0 2036.9,863.2 2039.6,863.5 2042.4,863.9 2045.2,864.3 2047.9,864.7 2050.7,865.3 2053.5,865.8 2056.2,866.5 2059.0,867.2 2061.8,868.0 2064.5,868.8 2067.3,869.7 2070.1,870.6 2072.8,871.6 2075.6,872.7 2078.4,873.8 2081.1,875.0 2083.9,876.3 2086.7,877.6 2089.4,879.0 2092.2,880.5 2095.0,882.0 2097.7,883.5 2100.5,885.2 2103.3,886.9 2106.0,888.6 2108.8,890.4 2111.6,892.3 2114.3,894.3 2117.1,896.3 2119.9,898.3 2122.6,900.4 2125.4,902.6 2128.2,904.9 2130.9,907.2 2133.7,909.5 2136.5,911.9 2139.2,914.4 2142.0,916.9 2144.8,919.5 2147.6,922.1 2150.3,924.8 2153.1,927.5 2155.9,930.3 2158.6,933.1 2161.4,936.0 2164.2,938.9 2166.9,941.9 2169.7,944.9 2172.5,948.0 2175.2,951.1 2178.0,954.2 2180.8,957.4 2183.5,960.6 2186.3,963.8 2189.1,967.1 2191.8,970.4 2194.6,973.8 2197.4,977.2 2200.1,980.6 2202.9,984.0 2205.7,987.4 2208.4,990.9 2211.2,994.4 2214.0,997.9 2216.7,1001.4"/>
</g>
<g id="main-labels" font-size="65">
<text x="217.7" y="1808.6" text-anchor="end">0</text>
<text x="217.7" y="1406.6" text-anchor="end">20</text>
<text x="217.7" y="1003.3" text-anchor="end">40</text>
<text x="217.7" y="602.1" text-anchor="end">60</text>
<text x="214.0" y="1857.3" font-size="64">1k</text>
<text x="691.4" y="1857.3" font-size="64">10k</text>
<text x="1167.6" y="1857.3" font-size="64">100k</text>
<text x="1686.0" y="1857.3" font-size="64">1M</text>
<text x="2152.9" y="1857.3" font-size="64">10M</text>
</g>
<text x="1228" y="1934" font-size="75.5" text-anchor="middle">Frequency (Hz)</text>
<text transform="translate(94.3 1186.5) rotate(-90)" font-size="74" letter-spacing="0.8" text-anchor="middle">Gain (dBV)</text>
<text x="1741.6" y="882.5" font-size="54">0<tspan font-size="34" dy="-25.6">o</tspan><tspan dy="25.6">C</tspan></text>
<text x="1768.4" y="1091.2" font-size="54">100<tspan font-size="34" dy="-25.6">o</tspan><tspan dy="25.6">C</tspan></text>
<path d="M1795 891C1839 924 1855.5 959.8 1838.5 1012" class="ar"/>
<path d="M1829.5 1038.0Q1829.2 1016.2 1823.5 996.6L1837.9 1012.3L1858.7 1008.1Q1842.6 1020.6 1829.5 1038.0Z" fill="#000"/>
<rect x="414.5" y="52.5" width="1473.2" height="740.9" fill="#fff" stroke="#0000ff" stroke-width="5.2"/>
<g id="inset-grid">
<path d="M553.6 653.8H1796.12" class="dot" stroke-dasharray="0.01 17.49"/>
<path d="M553.6 530.2H1796.12" class="dot" stroke-dasharray="0.01 17.49"/>
<path d="M553.6 406.6H1796.12" class="dot" stroke-dasharray="0.01 17.49"/>
<path d="M553.6 282.9H1796.12" class="dot" stroke-dasharray="0.01 17.49"/>
<path d="M553.6 159.3H1796.12" class="dot" stroke-dasharray="0.01 17.49"/>
<path d="M551.6 592.0H1817.5" class="g"/>
<path d="M551.6 468.4H1817.5" class="g"/>
<path d="M551.6 344.7H1817.5" class="g"/>
<path d="M551.6 221.1H1817.5" class="g"/>
<path d="M1314.1 97.5V715.6" class="g" stroke-width="3.8"/>
</g>
<rect x="1166" y="384" width="133" height="62" fill="#fff"/>
<rect x="1527" y="632" width="193" height="70" fill="#fff"/>
<g id="inset-axes">
<path d="M551.6 97.5H1817.5V715.6" class="g" stroke-width="3"/>
<path d="M551.6 97.5V715.6" class="g" stroke-width="3.4"/>
<path d="M551.6 715.6H1817.5" class="g" stroke-width="4.2"/>
<path d="M540.6 715.6H551.6" class="g" stroke-width="4.2" stroke-linecap="round"/>
<path d="M540.6 592.0H551.6" class="g" stroke-width="3.2" stroke-linecap="round"/>
<path d="M540.6 468.4H551.6" class="g" stroke-width="3.2" stroke-linecap="round"/>
<path d="M540.6 344.7H551.6" class="g" stroke-width="3.2" stroke-linecap="round"/>
<path d="M540.6 221.1H551.6" class="g" stroke-width="3.2" stroke-linecap="round"/>
<path d="M540.6 97.5H551.6" class="g" stroke-width="3.2" stroke-linecap="round"/>
<path d="M551.6 715.6V726.6" class="g" stroke-width="3.4" stroke-linecap="round"/>
<path d="M1314.8 715.6V726.6" class="g" stroke-width="3.4" stroke-linecap="round"/>
<path d="M1817.5 715.6V726.6" class="g" stroke-width="3.4" stroke-linecap="round"/>
</g>
<clipPath id="ci"><rect x="549.9" y="97.5" width="1269.5" height="618.1"/></clipPath>
<g id="inset-curves" clip-path="url(#ci)">
<polyline class="c" stroke="#ff00aa" points="536.6,162.4 543.4,171.1 550.2,179.6 557.0,188.0 563.7,196.2 570.4,204.4 577.1,212.4 583.8,220.3 590.4,228.0 597.0,235.7 603.5,243.2 610.1,250.6 616.6,257.9 623.1,265.1 629.5,272.2 635.9,279.2 642.3,286.0 648.7,292.8 655.0,299.4 661.3,305.9 667.6,312.3 673.9,318.7 680.1,324.9 686.3,331.0 692.5,337.0 698.7,342.9 704.8,348.7 710.9,354.4 717.0,360.1 723.0,365.6 729.1,371.0 735.1,376.3 741.1,381.6 747.0,386.7 752.9,391.7 758.9,396.7 764.7,401.6 770.6,406.3 776.5,411.0 782.3,415.6 788.1,420.1 793.9,424.6 799.6,428.9 805.3,433.2 811.0,437.4 816.7,441.5 822.4,445.5 828.0,449.4 833.7,453.2 839.3,457.0 844.9,460.7 850.4,464.3 856.0,467.9 861.5,471.3 867.0,474.7 872.4,478.0 877.9,481.3 883.3,484.4 888.8,487.5 894.2,490.5 899.5,493.5 904.9,496.4 910.2,499.2 915.6,501.9 920.9,504.6 926.2,507.2 931.4,509.7 936.7,512.2 941.9,514.6 947.1,516.9 952.3,519.2 957.5,521.4 962.6,523.5 967.8,525.6 972.9,527.6 978.0,529.6 983.1,531.5 988.2,533.3 993.2,535.1 998.3,536.8 1003.3,538.4 1008.3,540.0 1013.3,541.6 1018.2,543.0 1023.2,544.5 1028.1,545.8 1033.0,547.1 1037.9,548.4 1042.8,549.6 1047.7,550.7 1052.6,551.8 1057.4,552.9 1062.2,553.8 1067.0,554.8 1071.8,555.7 1076.6,556.5 1081.4,557.3 1086.1,558.0 1090.8,558.7 1095.6,559.3 1100.3,559.9 1105.0,560.4 1109.6,560.9 1114.3,561.3 1118.9,561.7 1123.6,562.0 1128.2,562.3 1132.8,562.6 1137.4,562.8 1141.9,562.9 1146.5,563.1 1151.0,563.1 1155.6,563.1 1160.1,563.1 1164.6,563.1 1169.1,563.0 1173.6,562.8 1178.0,562.6 1182.5,562.4 1186.9,562.1 1191.3,561.8 1195.7,561.4 1200.1,561.0 1204.5,560.6 1208.9,560.1 1213.3,559.6 1217.6,559.1 1221.9,558.5 1226.3,557.8 1230.6,557.2 1234.9,556.5 1239.2,555.7 1243.4,555.0 1247.7,554.1 1251.9,553.3 1256.2,552.4 1260.4,551.5 1264.6,550.5 1268.8,549.5 1273.0,548.5 1277.2,547.4 1281.3,546.4 1285.5,545.2 1289.6,544.1 1293.8,542.9 1297.9,541.6 1302.0,540.4 1306.1,539.1 1310.2,537.8 1314.3,536.4 1318.3,535.0 1322.4,533.6 1326.4,532.2 1330.4,530.7 1334.5,529.2 1338.5,527.6 1342.5,526.1 1346.5,524.5 1350.4,522.8 1354.4,521.2 1358.4,519.5 1362.3,517.8 1366.2,516.1 1370.2,514.3 1374.1,512.5 1378.0,510.7 1381.9,508.8 1385.8,506.9 1389.6,505.0 1393.5,503.1 1397.3,501.1 1401.2,499.2 1405.0,497.2 1408.9,495.1 1412.7,493.1 1416.5,491.0 1420.3,488.9 1424.0,486.7 1427.8,484.6 1431.6,482.4 1435.3,480.2 1439.1,478.0 1442.8,475.7 1446.6,473.4 1450.3,471.1 1454.0,468.8 1457.7,466.5 1461.4,464.1 1465.1,461.7 1468.7,459.3 1472.4,456.9 1476.1,454.4 1479.7,451.9 1483.3,449.4 1487.0,446.9 1490.6,444.4 1494.2,441.8 1497.8,439.2 1501.4,436.6 1505.0,434.0 1508.6,431.4 1512.1,428.7 1515.7,426.0 1519.2,423.3 1522.8,420.6 1526.3,417.9 1529.9,415.1 1533.4,412.3 1536.9,409.5 1540.4,406.7 1543.9,403.9 1547.4,401.0 1550.8,398.1 1554.3,395.3 1557.8,392.4 1561.2,389.4 1564.7,386.5 1568.1,383.5 1571.5,380.6 1574.9,377.6 1578.4,374.6 1581.8,371.5 1585.2,368.5 1588.6,365.4 1591.9,362.4 1595.3,359.3 1598.7,356.2 1602.0,353.1 1605.4,349.9 1608.7,346.8 1612.1,343.6 1615.4,340.4 1618.7,337.2 1622.0,334.0 1625.4,330.8 1628.7,327.5 1631.9,324.3 1635.2,321.0 1638.5,317.7 1641.8,314.4 1645.0,311.1 1648.3,307.8 1651.6,304.4 1654.8,301.1 1658.0,297.7 1661.3,294.3 1664.5,290.9 1667.7,287.5 1670.9,284.1 1674.1,280.7 1677.3,277.2 1680.5,273.8 1683.7,270.3 1686.8,266.8 1690.0,263.3 1693.2,259.8 1696.3,256.3 1699.5,252.8 1702.6,249.2 1705.7,245.7 1708.9,242.1 1712.0,238.5 1715.1,234.9 1718.2,231.3 1721.3,227.7 1724.4,224.1 1727.5,220.5 1730.6,216.8 1733.7,213.2 1736.7,209.5 1739.8,205.8 1742.9,202.1 1745.9,198.4 1749.0,194.7 1752.0,191.0 1755.0,187.3 1758.0,183.5 1761.1,179.8 1764.1,176.0 1767.1,172.3 1770.1,168.5 1773.1,164.7 1776.1,160.9 1779.1,157.1 1782.0,153.3 1785.0,149.4 1788.0,145.6 1790.9,141.8 1793.9,137.9 1796.8,134.1 1799.8,130.2 1802.7,126.3 1805.7,122.4 1808.6,118.5 1811.5,114.6 1814.4,110.7 1817.3,106.8 1820.2,102.9 1823.1,98.9 1826.0,95.0"/>
<polyline class="c" stroke="#00aaaa" points="536.6,183.9 543.4,192.5 550.2,201.0 557.0,209.4 563.7,217.7 570.4,225.8 577.1,233.8 583.8,241.7 590.4,249.5 597.0,257.1 603.5,264.7 610.1,272.1 616.6,279.4 623.1,286.6 629.5,293.6 635.9,300.6 642.3,307.5 648.7,314.2 655.0,320.8 661.3,327.4 667.6,333.8 673.9,340.1 680.1,346.3 686.3,352.4 692.5,358.5 698.7,364.4 704.8,370.2 710.9,375.9 717.0,381.5 723.0,387.0 729.1,392.4 735.1,397.8 741.1,403.0 747.0,408.1 752.9,413.2 758.9,418.1 764.7,423.0 770.6,427.8 776.5,432.5 782.3,437.1 788.1,441.6 793.9,446.0 799.6,450.4 805.3,454.6 811.0,458.8 816.7,462.9 822.4,466.9 828.0,470.8 833.7,474.7 839.3,478.5 844.9,482.2 850.4,485.8 856.0,489.3 861.5,492.8 867.0,496.2 872.4,499.5 877.9,502.7 883.3,505.9 888.8,509.0 894.2,512.0 899.5,514.9 904.9,517.8 910.2,520.6 915.6,523.3 920.9,526.0 926.2,528.6 931.4,531.1 936.7,533.6 941.9,536.0 947.1,538.3 952.3,540.6 957.5,542.8 962.6,545.0 967.8,547.0 972.9,549.1 978.0,551.0 983.1,552.9 988.2,554.7 993.2,556.5 998.3,558.2 1003.3,559.9 1008.3,561.5 1013.3,563.0 1018.2,564.5 1023.2,565.9 1028.1,567.3 1033.0,568.6 1037.9,569.8 1042.8,571.0 1047.7,572.2 1052.6,573.3 1057.4,574.3 1062.2,575.3 1067.0,576.2 1071.8,577.1 1076.6,577.9 1081.4,578.7 1086.1,579.4 1090.8,580.1 1095.6,580.7 1100.3,581.3 1105.0,581.8 1109.6,582.3 1114.3,582.8 1118.9,583.2 1123.6,583.5 1128.2,583.8 1132.8,584.0 1137.4,584.2 1141.9,584.4 1146.5,584.5 1151.0,584.6 1155.6,584.6 1160.1,584.6 1164.6,584.5 1169.1,584.4 1173.6,584.3 1178.0,584.1 1182.5,583.8 1186.9,583.6 1191.3,583.2 1195.7,582.9 1200.1,582.5 1204.5,582.1 1208.9,581.6 1213.3,581.1 1217.6,580.5 1221.9,579.9 1226.3,579.3 1230.6,578.6 1234.9,577.9 1239.2,577.2 1243.4,576.4 1247.7,575.6 1251.9,574.7 1256.2,573.9 1260.4,572.9 1264.6,572.0 1268.8,571.0 1273.0,570.0 1277.2,568.9 1281.3,567.8 1285.5,566.7 1289.6,565.5 1293.8,564.3 1297.9,563.1 1302.0,561.8 1306.1,560.5 1310.2,559.2 1314.3,557.9 1318.3,556.5 1322.4,555.1 1326.4,553.6 1330.4,552.1 1334.5,550.6 1338.5,549.1 1342.5,547.5 1346.5,545.9 1350.4,544.3 1354.4,542.6 1358.4,541.0 1362.3,539.2 1366.2,537.5 1370.2,535.7 1374.1,533.9 1378.0,532.1 1381.9,530.3 1385.8,528.4 1389.6,526.5 1393.5,524.6 1397.3,522.6 1401.2,520.6 1405.0,518.6 1408.9,516.6 1412.7,514.5 1416.5,512.4 1420.3,510.3 1424.0,508.2 1427.8,506.0 1431.6,503.8 1435.3,501.6 1439.1,499.4 1442.8,497.2 1446.6,494.9 1450.3,492.6 1454.0,490.3 1457.7,487.9 1461.4,485.5 1465.1,483.2 1468.7,480.7 1472.4,478.3 1476.1,475.9 1479.7,473.4 1483.3,470.9 1487.0,468.4 1490.6,465.8 1494.2,463.3 1497.8,460.7 1501.4,458.1 1505.0,455.5 1508.6,452.8 1512.1,450.1 1515.7,447.5 1519.2,444.8 1522.8,442.0 1526.3,439.3 1529.9,436.5 1533.4,433.8 1536.9,431.0 1540.4,428.2 1543.9,425.3 1547.4,422.5 1550.8,419.6 1554.3,416.7 1557.8,413.8 1561.2,410.9 1564.7,407.9 1568.1,405.0 1571.5,402.0 1574.9,399.0 1578.4,396.0 1581.8,393.0 1585.2,389.9 1588.6,386.9 1591.9,383.8 1595.3,380.7 1598.7,377.6 1602.0,374.5 1605.4,371.4 1608.7,368.2 1612.1,365.0 1615.4,361.9 1618.7,358.7 1622.0,355.5 1625.4,352.2 1628.7,349.0 1631.9,345.7 1635.2,342.5 1638.5,339.2 1641.8,335.9 1645.0,332.6 1648.3,329.2 1651.6,325.9 1654.8,322.5 1658.0,319.2 1661.3,315.8 1664.5,312.4 1667.7,309.0 1670.9,305.6 1674.1,302.1 1677.3,298.7 1680.5,295.2 1683.7,291.8 1686.8,288.3 1690.0,284.8 1693.2,281.3 1696.3,277.8 1699.5,274.2 1702.6,270.7 1705.7,267.1 1708.9,263.6 1712.0,260.0 1715.1,256.4 1718.2,252.8 1721.3,249.2 1724.4,245.5 1727.5,241.9 1730.6,238.3 1733.7,234.6 1736.7,230.9 1739.8,227.3 1742.9,223.6 1745.9,219.9 1749.0,216.2 1752.0,212.5 1755.0,208.7 1758.0,205.0 1761.1,201.2 1764.1,197.5 1767.1,193.7 1770.1,189.9 1773.1,186.1 1776.1,182.3 1779.1,178.5 1782.0,174.7 1785.0,170.9 1788.0,167.1 1790.9,163.2 1793.9,159.4 1796.8,155.5 1799.8,151.6 1802.7,147.8 1805.7,143.9 1808.6,140.0 1811.5,136.1 1814.4,132.2 1817.3,128.2 1820.2,124.3 1823.1,120.4 1826.0,116.4"/>
<polyline class="c" stroke="#ffaa00" points="536.6,205.3 543.4,214.0 550.2,222.5 557.0,230.9 563.7,239.1 570.4,247.3 577.1,255.3 583.8,263.2 590.4,270.9 597.0,278.6 603.5,286.1 610.1,293.5 616.6,300.8 623.1,308.0 629.5,315.1 635.9,322.1 642.3,328.9 648.7,335.7 655.0,342.3 661.3,348.8 667.6,355.2 673.9,361.6 680.1,367.8 686.3,373.9 692.5,379.9 698.7,385.8 704.8,391.6 710.9,397.3 717.0,403.0 723.0,408.5 729.1,413.9 735.1,419.2 741.1,424.5 747.0,429.6 752.9,434.6 758.9,439.6 764.7,444.5 770.6,449.2 776.5,453.9 782.3,458.5 788.1,463.0 793.9,467.5 799.6,471.8 805.3,476.1 811.0,480.3 816.7,484.4 822.4,488.4 828.0,492.3 833.7,496.1 839.3,499.9 844.9,503.6 850.4,507.2 856.0,510.8 861.5,514.2 867.0,517.6 872.4,520.9 877.9,524.2 883.3,527.3 888.8,530.4 894.2,533.4 899.5,536.4 904.9,539.3 910.2,542.1 915.6,544.8 920.9,547.5 926.2,550.1 931.4,552.6 936.7,555.1 941.9,557.5 947.1,559.8 952.3,562.1 957.5,564.3 962.6,566.4 967.8,568.5 972.9,570.5 978.0,572.5 983.1,574.4 988.2,576.2 993.2,578.0 998.3,579.7 1003.3,581.3 1008.3,582.9 1013.3,584.5 1018.2,585.9 1023.2,587.4 1028.1,588.7 1033.0,590.0 1037.9,591.3 1042.8,592.5 1047.7,593.6 1052.6,594.7 1057.4,595.8 1062.2,596.7 1067.0,597.7 1071.8,598.6 1076.6,599.4 1081.4,600.2 1086.1,600.9 1090.8,601.6 1095.6,602.2 1100.3,602.8 1105.0,603.3 1109.6,603.8 1114.3,604.2 1118.9,604.6 1123.6,604.9 1128.2,605.2 1132.8,605.5 1137.4,605.7 1141.9,605.8 1146.5,606.0 1151.0,606.0 1155.6,606.0 1160.1,606.0 1164.6,606.0 1169.1,605.9 1173.6,605.7 1178.0,605.5 1182.5,605.3 1186.9,605.0 1191.3,604.7 1195.7,604.3 1200.1,603.9 1204.5,603.5 1208.9,603.0 1213.3,602.5 1217.6,602.0 1221.9,601.4 1226.3,600.7 1230.6,600.1 1234.9,599.4 1239.2,598.6 1243.4,597.9 1247.7,597.0 1251.9,596.2 1256.2,595.3 1260.4,594.4 1264.6,593.4 1268.8,592.4 1273.0,591.4 1277.2,590.3 1281.3,589.3 1285.5,588.1 1289.6,587.0 1293.8,585.8 1297.9,584.5 1302.0,583.3 1306.1,582.0 1310.2,580.7 1314.3,579.3 1318.3,577.9 1322.4,576.5 1326.4,575.1 1330.4,573.6 1334.5,572.1 1338.5,570.5 1342.5,569.0 1346.5,567.4 1350.4,565.7 1354.4,564.1 1358.4,562.4 1362.3,560.7 1366.2,559.0 1370.2,557.2 1374.1,555.4 1378.0,553.6 1381.9,551.7 1385.8,549.8 1389.6,547.9 1393.5,546.0 1397.3,544.0 1401.2,542.1 1405.0,540.1 1408.9,538.0 1412.7,536.0 1416.5,533.9 1420.3,531.8 1424.0,529.6 1427.8,527.5 1431.6,525.3 1435.3,523.1 1439.1,520.9 1442.8,518.6 1446.6,516.3 1450.3,514.0 1454.0,511.7 1457.7,509.4 1461.4,507.0 1465.1,504.6 1468.7,502.2 1472.4,499.8 1476.1,497.3 1479.7,494.8 1483.3,492.3 1487.0,489.8 1490.6,487.3 1494.2,484.7 1497.8,482.1 1501.4,479.5 1505.0,476.9 1508.6,474.3 1512.1,471.6 1515.7,468.9 1519.2,466.2 1522.8,463.5 1526.3,460.8 1529.9,458.0 1533.4,455.2 1536.9,452.4 1540.4,449.6 1543.9,446.8 1547.4,443.9 1550.8,441.0 1554.3,438.2 1557.8,435.3 1561.2,432.3 1564.7,429.4 1568.1,426.4 1571.5,423.5 1574.9,420.5 1578.4,417.5 1581.8,414.4 1585.2,411.4 1588.6,408.3 1591.9,405.3 1595.3,402.2 1598.7,399.1 1602.0,396.0 1605.4,392.8 1608.7,389.7 1612.1,386.5 1615.4,383.3 1618.7,380.1 1622.0,376.9 1625.4,373.7 1628.7,370.4 1631.9,367.2 1635.2,363.9 1638.5,360.6 1641.8,357.3 1645.0,354.0 1648.3,350.7 1651.6,347.3 1654.8,344.0 1658.0,340.6 1661.3,337.2 1664.5,333.8 1667.7,330.4 1670.9,327.0 1674.1,323.6 1677.3,320.1 1680.5,316.7 1683.7,313.2 1686.8,309.7 1690.0,306.2 1693.2,302.7 1696.3,299.2 1699.5,295.7 1702.6,292.1 1705.7,288.6 1708.9,285.0 1712.0,281.4 1715.1,277.8 1718.2,274.2 1721.3,270.6 1724.4,267.0 1727.5,263.4 1730.6,259.7 1733.7,256.1 1736.7,252.4 1739.8,248.7 1742.9,245.0 1745.9,241.3 1749.0,237.6 1752.0,233.9 1755.0,230.2 1758.0,226.4 1761.1,222.7 1764.1,218.9 1767.1,215.2 1770.1,211.4 1773.1,207.6 1776.1,203.8 1779.1,200.0 1782.0,196.2 1785.0,192.3 1788.0,188.5 1790.9,184.7 1793.9,180.8 1796.8,177.0 1799.8,173.1 1802.7,169.2 1805.7,165.3 1808.6,161.4 1811.5,157.5 1814.4,153.6 1817.3,149.7 1820.2,145.8 1823.1,141.8 1826.0,137.9"/>
<polyline class="c" stroke="#640000" points="536.6,226.8 543.4,235.4 550.2,243.9 557.0,252.3 563.7,260.6 570.4,268.7 577.1,276.7 583.8,284.6 590.4,292.4 597.0,300.0 603.5,307.6 610.1,315.0 616.6,322.3 623.1,329.5 629.5,336.5 635.9,343.5 642.3,350.4 648.7,357.1 655.0,363.7 661.3,370.3 667.6,376.7 673.9,383.0 680.1,389.2 686.3,395.3 692.5,401.4 698.7,407.3 704.8,413.1 710.9,418.8 717.0,424.4 723.0,429.9 729.1,435.3 735.1,440.7 741.1,445.9 747.0,451.0 752.9,456.1 758.9,461.0 764.7,465.9 770.6,470.7 776.5,475.4 782.3,480.0 788.1,484.5 793.9,488.9 799.6,493.3 805.3,497.5 811.0,501.7 816.7,505.8 822.4,509.8 828.0,513.7 833.7,517.6 839.3,521.4 844.9,525.1 850.4,528.7 856.0,532.2 861.5,535.7 867.0,539.1 872.4,542.4 877.9,545.6 883.3,548.8 888.8,551.9 894.2,554.9 899.5,557.8 904.9,560.7 910.2,563.5 915.6,566.2 920.9,568.9 926.2,571.5 931.4,574.0 936.7,576.5 941.9,578.9 947.1,581.2 952.3,583.5 957.5,585.7 962.6,587.9 967.8,589.9 972.9,592.0 978.0,593.9 983.1,595.8 988.2,597.6 993.2,599.4 998.3,601.1 1003.3,602.8 1008.3,604.4 1013.3,605.9 1018.2,607.4 1023.2,608.8 1028.1,610.2 1033.0,611.5 1037.9,612.7 1042.8,613.9 1047.7,615.1 1052.6,616.2 1057.4,617.2 1062.2,618.2 1067.0,619.1 1071.8,620.0 1076.6,620.8 1081.4,621.6 1086.1,622.3 1090.8,623.0 1095.6,623.6 1100.3,624.2 1105.0,624.7 1109.6,625.2 1114.3,625.7 1118.9,626.1 1123.6,626.4 1128.2,626.7 1132.8,626.9 1137.4,627.1 1141.9,627.3 1146.5,627.4 1151.0,627.5 1155.6,627.5 1160.1,627.5 1164.6,627.4 1169.1,627.3 1173.6,627.2 1178.0,627.0 1182.5,626.7 1186.9,626.5 1191.3,626.1 1195.7,625.8 1200.1,625.4 1204.5,625.0 1208.9,624.5 1213.3,624.0 1217.6,623.4 1221.9,622.8 1226.3,622.2 1230.6,621.5 1234.9,620.8 1239.2,620.1 1243.4,619.3 1247.7,618.5 1251.9,617.6 1256.2,616.8 1260.4,615.8 1264.6,614.9 1268.8,613.9 1273.0,612.9 1277.2,611.8 1281.3,610.7 1285.5,609.6 1289.6,608.4 1293.8,607.2 1297.9,606.0 1302.0,604.7 1306.1,603.4 1310.2,602.1 1314.3,600.8 1318.3,599.4 1322.4,598.0 1326.4,596.5 1330.4,595.0 1334.5,593.5 1338.5,592.0 1342.5,590.4 1346.5,588.8 1350.4,587.2 1354.4,585.5 1358.4,583.9 1362.3,582.1 1366.2,580.4 1370.2,578.6 1374.1,576.8 1378.0,575.0 1381.9,573.2 1385.8,571.3 1389.6,569.4 1393.5,567.5 1397.3,565.5 1401.2,563.5 1405.0,561.5 1408.9,559.5 1412.7,557.4 1416.5,555.3 1420.3,553.2 1424.0,551.1 1427.8,548.9 1431.6,546.7 1435.3,544.5 1439.1,542.3 1442.8,540.1 1446.6,537.8 1450.3,535.5 1454.0,533.2 1457.7,530.8 1461.4,528.4 1465.1,526.1 1468.7,523.6 1472.4,521.2 1476.1,518.8 1479.7,516.3 1483.3,513.8 1487.0,511.3 1490.6,508.7 1494.2,506.2 1497.8,503.6 1501.4,501.0 1505.0,498.4 1508.6,495.7 1512.1,493.0 1515.7,490.4 1519.2,487.7 1522.8,484.9 1526.3,482.2 1529.9,479.4 1533.4,476.7 1536.9,473.9 1540.4,471.1 1543.9,468.2 1547.4,465.4 1550.8,462.5 1554.3,459.6 1557.8,456.7 1561.2,453.8 1564.7,450.8 1568.1,447.9 1571.5,444.9 1574.9,441.9 1578.4,438.9 1581.8,435.9 1585.2,432.8 1588.6,429.8 1591.9,426.7 1595.3,423.6 1598.7,420.5 1602.0,417.4 1605.4,414.3 1608.7,411.1 1612.1,407.9 1615.4,404.8 1618.7,401.6 1622.0,398.4 1625.4,395.1 1628.7,391.9 1631.9,388.6 1635.2,385.4 1638.5,382.1 1641.8,378.8 1645.0,375.5 1648.3,372.1 1651.6,368.8 1654.8,365.4 1658.0,362.1 1661.3,358.7 1664.5,355.3 1667.7,351.9 1670.9,348.5 1674.1,345.0 1677.3,341.6 1680.5,338.1 1683.7,334.7 1686.8,331.2 1690.0,327.7 1693.2,324.2 1696.3,320.7 1699.5,317.1 1702.6,313.6 1705.7,310.0 1708.9,306.5 1712.0,302.9 1715.1,299.3 1718.2,295.7 1721.3,292.1 1724.4,288.4 1727.5,284.8 1730.6,281.2 1733.7,277.5 1736.7,273.8 1739.8,270.2 1742.9,266.5 1745.9,262.8 1749.0,259.1 1752.0,255.4 1755.0,251.6 1758.0,247.9 1761.1,244.1 1764.1,240.4 1767.1,236.6 1770.1,232.8 1773.1,229.0 1776.1,225.2 1779.1,221.4 1782.0,217.6 1785.0,213.8 1788.0,210.0 1790.9,206.1 1793.9,202.3 1796.8,198.4 1799.8,194.5 1802.7,190.7 1805.7,186.8 1808.6,182.9 1811.5,179.0 1814.4,175.1 1817.3,171.1 1820.2,167.2 1823.1,163.3 1826.0,159.3"/>
<polyline class="c" stroke="#005000" points="536.6,248.2 543.4,256.9 550.2,265.4 557.0,273.8 563.7,282.0 570.4,290.2 577.1,298.2 583.8,306.1 590.4,313.8 597.0,321.5 603.5,329.0 610.1,336.4 616.6,343.7 623.1,350.9 629.5,358.0 635.9,365.0 642.3,371.8 648.7,378.6 655.0,385.2 661.3,391.7 667.6,398.1 673.9,404.5 680.1,410.7 686.3,416.8 692.5,422.8 698.7,428.7 704.8,434.5 710.9,440.2 717.0,445.9 723.0,451.4 729.1,456.8 735.1,462.1 741.1,467.4 747.0,472.5 752.9,477.5 758.9,482.5 764.7,487.4 770.6,492.1 776.5,496.8 782.3,501.4 788.1,505.9 793.9,510.4 799.6,514.7 805.3,519.0 811.0,523.2 816.7,527.3 822.4,531.3 828.0,535.2 833.7,539.0 839.3,542.8 844.9,546.5 850.4,550.1 856.0,553.7 861.5,557.1 867.0,560.5 872.4,563.8 877.9,567.1 883.3,570.2 888.8,573.3 894.2,576.3 899.5,579.3 904.9,582.2 910.2,585.0 915.6,587.7 920.9,590.4 926.2,593.0 931.4,595.5 936.7,598.0 941.9,600.4 947.1,602.7 952.3,605.0 957.5,607.2 962.6,609.3 967.8,611.4 972.9,613.4 978.0,615.4 983.1,617.3 988.2,619.1 993.2,620.9 998.3,622.6 1003.3,624.2 1008.3,625.8 1013.3,627.4 1018.2,628.8 1023.2,630.3 1028.1,631.6 1033.0,632.9 1037.9,634.2 1042.8,635.4 1047.7,636.5 1052.6,637.6 1057.4,638.7 1062.2,639.6 1067.0,640.6 1071.8,641.5 1076.6,642.3 1081.4,643.1 1086.1,643.8 1090.8,644.5 1095.6,645.1 1100.3,645.7 1105.0,646.2 1109.6,646.7 1114.3,647.1 1118.9,647.5 1123.6,647.8 1128.2,648.1 1132.8,648.4 1137.4,648.6 1141.9,648.7 1146.5,648.9 1151.0,648.9 1155.6,648.9 1160.1,648.9 1164.6,648.9 1169.1,648.8 1173.6,648.6 1178.0,648.4 1182.5,648.2 1186.9,647.9 1191.3,647.6 1195.7,647.2 1200.1,646.8 1204.5,646.4 1208.9,645.9 1213.3,645.4 1217.6,644.9 1221.9,644.3 1226.3,643.6 1230.6,643.0 1234.9,642.3 1239.2,641.5 1243.4,640.8 1247.7,639.9 1251.9,639.1 1256.2,638.2 1260.4,637.3 1264.6,636.3 1268.8,635.3 1273.0,634.3 1277.2,633.2 1281.3,632.2 1285.5,631.0 1289.6,629.9 1293.8,628.7 1297.9,627.4 1302.0,626.2 1306.1,624.9 1310.2,623.6 1314.3,622.2 1318.3,620.8 1322.4,619.4 1326.4,618.0 1330.4,616.5 1334.5,615.0 1338.5,613.4 1342.5,611.9 1346.5,610.3 1350.4,608.6 1354.4,607.0 1358.4,605.3 1362.3,603.6 1366.2,601.9 1370.2,600.1 1374.1,598.3 1378.0,596.5 1381.9,594.6 1385.8,592.7 1389.6,590.8 1393.5,588.9 1397.3,586.9 1401.2,585.0 1405.0,583.0 1408.9,580.9 1412.7,578.9 1416.5,576.8 1420.3,574.7 1424.0,572.5 1427.8,570.4 1431.6,568.2 1435.3,566.0 1439.1,563.8 1442.8,561.5 1446.6,559.2 1450.3,556.9 1454.0,554.6 1457.7,552.3 1461.4,549.9 1465.1,547.5 1468.7,545.1 1472.4,542.7 1476.1,540.2 1479.7,537.7 1483.3,535.2 1487.0,532.7 1490.6,530.2 1494.2,527.6 1497.8,525.0 1501.4,522.4 1505.0,519.8 1508.6,517.2 1512.1,514.5 1515.7,511.8 1519.2,509.1 1522.8,506.4 1526.3,503.7 1529.9,500.9 1533.4,498.1 1536.9,495.3 1540.4,492.5 1543.9,489.7 1547.4,486.8 1550.8,483.9 1554.3,481.1 1557.8,478.2 1561.2,475.2 1564.7,472.3 1568.1,469.3 1571.5,466.4 1574.9,463.4 1578.4,460.4 1581.8,457.3 1585.2,454.3 1588.6,451.2 1591.9,448.2 1595.3,445.1 1598.7,442.0 1602.0,438.9 1605.4,435.7 1608.7,432.6 1612.1,429.4 1615.4,426.2 1618.7,423.0 1622.0,419.8 1625.4,416.6 1628.7,413.3 1631.9,410.1 1635.2,406.8 1638.5,403.5 1641.8,400.2 1645.0,396.9 1648.3,393.6 1651.6,390.2 1654.8,386.9 1658.0,383.5 1661.3,380.1 1664.5,376.7 1667.7,373.3 1670.9,369.9 1674.1,366.5 1677.3,363.0 1680.5,359.6 1683.7,356.1 1686.8,352.6 1690.0,349.1 1693.2,345.6 1696.3,342.1 1699.5,338.6 1702.6,335.0 1705.7,331.5 1708.9,327.9 1712.0,324.3 1715.1,320.7 1718.2,317.1 1721.3,313.5 1724.4,309.9 1727.5,306.3 1730.6,302.6 1733.7,299.0 1736.7,295.3 1739.8,291.6 1742.9,287.9 1745.9,284.2 1749.0,280.5 1752.0,276.8 1755.0,273.1 1758.0,269.3 1761.1,265.6 1764.1,261.8 1767.1,258.1 1770.1,254.3 1773.1,250.5 1776.1,246.7 1779.1,242.9 1782.0,239.1 1785.0,235.2 1788.0,231.4 1790.9,227.6 1793.9,223.7 1796.8,219.9 1799.8,216.0 1802.7,212.1 1805.7,208.2 1808.6,204.3 1811.5,200.4 1814.4,196.5 1817.3,192.6 1820.2,188.7 1823.1,184.7 1826.0,180.8"/>
</g>
<g id="inset-labels" font-size="54">
<text x="532.8" y="733.9" text-anchor="end">16.8</text>
<text x="532.8" y="610.3" text-anchor="end">17.0</text>
<text x="532.8" y="486.7" text-anchor="end">17.2</text>
<text x="532.8" y="363.0" text-anchor="end">17.4</text>
<text x="532.8" y="239.4" text-anchor="end">17.6</text>
<text x="532.8" y="115.8" text-anchor="end">17.8</text>
<text x="515.1" y="772">30k</text>
<text x="1271.2" y="772">50k</text>
<text x="1778.4" y="772">70k</text>
</g>
<text x="1188.7" y="433.8" font-size="54">0<tspan font-size="34" dy="-25.6">o</tspan><tspan dy="25.6">C</tspan></text>
<text x="1550.6" y="689.0" font-size="54">100<tspan font-size="34" dy="-25.6">o</tspan><tspan dy="25.6">C</tspan></text>
<path d="M1337.0 525.8Q1316.9 519.9 1297.2 519.5L1315.0 510.1L1318.2 490.2Q1324.9 508.7 1337.0 525.8Z" fill="#000"/>
<path d="M1231 450.1L1315.0 510.1" class="ar"/>
<path d="M1414.2 578.3Q1434.4 584.0 1454.0 584.1L1436.3 593.7L1433.4 613.7Q1426.5 595.2 1414.2 578.3Z" fill="#000"/>
<path d="M1519.5 651.8L1436.3 593.7" class="ar"/>
</svg>
</body></html>
